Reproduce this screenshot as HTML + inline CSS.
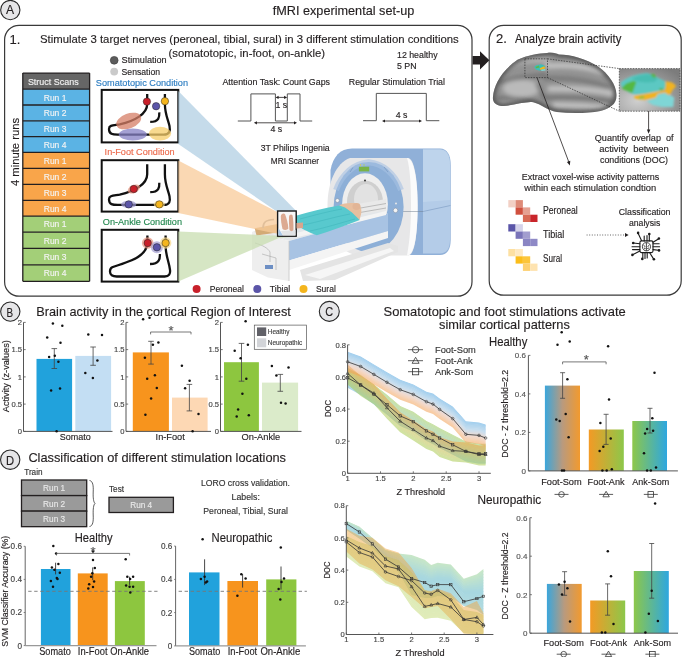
<!DOCTYPE html><html><head><meta charset="utf-8"><style>html,body{margin:0;padding:0;background:#fff;width:685px;height:657px;overflow:hidden}svg{display:block;font-family:"Liberation Sans",sans-serif;will-change:transform}</style></head><body>
<svg width="685" height="657" viewBox="0 0 685 657">
<defs>
<linearGradient id="gFS" x1="0" x2="1" y1="0" y2="0"><stop offset="0" stop-color="#3aa6dc"/><stop offset="0.5" stop-color="#b99a7e"/><stop offset="1" stop-color="#f29a2e"/></linearGradient>
<linearGradient id="gFA" x1="0" x2="1" y1="0" y2="0"><stop offset="0" stop-color="#f39a25"/><stop offset="1" stop-color="#8dc74a"/></linearGradient>
<linearGradient id="gAS" x1="0" x2="1" y1="0" y2="0"><stop offset="0" stop-color="#8dc74a"/><stop offset="1" stop-color="#2ea7e0"/></linearGradient>
<linearGradient id="bFS" x1="0" x2="0" y1="0" y2="1"><stop offset="0" stop-color="#3e9ee0"/><stop offset="0.45" stop-color="#dfb2a0"/><stop offset="1" stop-color="#f79a3a"/></linearGradient>
<linearGradient id="bFA" x1="0" x2="0" y1="0" y2="1"><stop offset="0" stop-color="#f5a040"/><stop offset="1" stop-color="#a9cc55"/></linearGradient>
<linearGradient id="bAS" x1="0" x2="0" y1="0" y2="1"><stop offset="0" stop-color="#9fcb55"/><stop offset="1" stop-color="#6fb8e0"/></linearGradient>
<linearGradient id="nG" x1="0" x2="0" y1="0" y2="1"><stop offset="0" stop-color="#b5d57a"/><stop offset="1" stop-color="#c8dc80"/></linearGradient>
<linearGradient id="nO" x1="0" x2="0" y1="0" y2="1"><stop offset="0" stop-color="#f0a43c"/><stop offset="1" stop-color="#e8ae48"/></linearGradient>
<linearGradient id="nT" x1="0" x2="0" y1="0" y2="1"><stop offset="0" stop-color="#9fd49a"/><stop offset="0.5" stop-color="#6dbcc6"/><stop offset="1" stop-color="#74b8cf"/></linearGradient>
<radialGradient id="brainG" cx="0.55" cy="0.45" r="0.6"><stop offset="0" stop-color="#c8c8c8"/><stop offset="0.6" stop-color="#9a9a9a"/><stop offset="1" stop-color="#555"/></radialGradient>
<radialGradient id="insetG" cx="0.3" cy="0.75" r="0.9"><stop offset="0" stop-color="#d0d0d0"/><stop offset="1" stop-color="#7c7c7c"/></radialGradient>
<linearGradient id="mriBlue" x1="0" x2="1" y1="0" y2="0"><stop offset="0" stop-color="#a9c6e3"/><stop offset="1" stop-color="#6f98c8"/></linearGradient>
<linearGradient id="mriWhite" x1="0" x2="1" y1="0" y2="1"><stop offset="0" stop-color="#f4f4f4"/><stop offset="1" stop-color="#c9cfd6"/></linearGradient>
</defs>
<circle cx="10.3" cy="10.05" r="9.65" fill="#e6e6e8" stroke="#2a2a2a" stroke-width="1.1"/>
<text x="6.1" y="13.6" font-size="13.4" fill="#231f20" stroke="#231f20" stroke-width="0.15" text-anchor="start" textLength="8.1" lengthAdjust="spacingAndGlyphs" >A</text>
<text x="272.7" y="15.3" font-size="12.8" fill="#231f20" stroke="#231f20" stroke-width="0.15" text-anchor="start" textLength="141.6" lengthAdjust="spacingAndGlyphs" >fMRI experimental set-up</text>
<rect x="4.6" y="25.3" width="467.4" height="270.9" rx="14.5" ry="14.5" fill="none" stroke="#3a3a3a" stroke-width="1.2"/>
<rect x="489.2" y="25.3" width="192.00000000000006" height="269.9" rx="14.5" ry="14.5" fill="none" stroke="#3a3a3a" stroke-width="1.2"/>
<path d="M472.6,56 L480,56 L480,51.2 L489.4,60.2 L480,69.4 L480,64.4 L472.6,64.4 Z" fill="#231f20"/>
<text x="9.5" y="44.2" font-size="13" fill="#231f20" stroke="#231f20" stroke-width="0.15" text-anchor="start" >1.</text>
<text x="40.0" y="43.3" font-size="11.6" fill="#231f20" stroke="#231f20" stroke-width="0.15" text-anchor="start" textLength="418.8" lengthAdjust="spacingAndGlyphs" >Stimulate 3 target nerves (peroneal, tibial, sural) in 3 different stimulation conditions</text>
<text x="168.6" y="57.4" font-size="11.6" fill="#231f20" stroke="#231f20" stroke-width="0.15" text-anchor="start" textLength="156.4" lengthAdjust="spacingAndGlyphs" >(somatotopic, in-foot, on-ankle)</text>
<circle cx="114.2" cy="60.3" r="3.9" fill="#5c5c5c" stroke="#3a3a3a" stroke-width="0.6"/>
<circle cx="114.2" cy="71.6" r="3.9" fill="#cacaca"/>
<text x="121.6" y="62.8" font-size="9.3" fill="#231f20" stroke="#231f20" stroke-width="0.15" text-anchor="start" textLength="45.1" lengthAdjust="spacingAndGlyphs" >Stimulation</text>
<text x="121.6" y="74.6" font-size="9.3" fill="#231f20" stroke="#231f20" stroke-width="0.15" text-anchor="start" textLength="38.4" lengthAdjust="spacingAndGlyphs" >Sensation</text>
<text x="397.0" y="57.6" font-size="8.8" fill="#231f20" stroke="#231f20" stroke-width="0.15" text-anchor="start" >12 healthy</text>
<text x="397.0" y="68.7" font-size="8.8" fill="#231f20" stroke="#231f20" stroke-width="0.15" text-anchor="start" >5 PN</text>
<rect x="22.8" y="73.1" width="66.8" height="16.1" fill="#666666" />
<text x="53.3" y="85.1" font-size="9.8" fill="#f2f2f2" stroke="#f2f2f2" stroke-width="0.15" text-anchor="middle" textLength="50.8" lengthAdjust="spacingAndGlyphs" >Struct Scans</text>
<rect x="22.8" y="89.2" width="66.8" height="15.8" fill="#5bb3e4" />
<text x="55.1" y="100.5" font-size="9.6" fill="#f4f4f4" stroke="#f4f4f4" stroke-width="0.15" text-anchor="middle" textLength="22.7" lengthAdjust="spacingAndGlyphs" >Run 1</text>
<rect x="22.8" y="105.0" width="66.8" height="15.8" fill="#5bb3e4" />
<text x="55.1" y="116.3" font-size="9.6" fill="#f4f4f4" stroke="#f4f4f4" stroke-width="0.15" text-anchor="middle" textLength="22.7" lengthAdjust="spacingAndGlyphs" >Run 2</text>
<rect x="22.8" y="120.8" width="66.8" height="15.8" fill="#5bb3e4" />
<text x="55.1" y="132.1" font-size="9.6" fill="#f4f4f4" stroke="#f4f4f4" stroke-width="0.15" text-anchor="middle" textLength="22.7" lengthAdjust="spacingAndGlyphs" >Run 3</text>
<rect x="22.8" y="136.6" width="66.8" height="15.8" fill="#5bb3e4" />
<text x="55.1" y="147.9" font-size="9.6" fill="#f4f4f4" stroke="#f4f4f4" stroke-width="0.15" text-anchor="middle" textLength="22.7" lengthAdjust="spacingAndGlyphs" >Run 4</text>
<rect x="22.8" y="152.4" width="66.8" height="16.0" fill="#f9a54a" />
<text x="55.1" y="163.7" font-size="9.6" fill="#f4f4f4" stroke="#f4f4f4" stroke-width="0.15" text-anchor="middle" textLength="22.7" lengthAdjust="spacingAndGlyphs" >Run 1</text>
<rect x="22.8" y="168.4" width="66.8" height="16.0" fill="#f9a54a" />
<text x="55.1" y="179.7" font-size="9.6" fill="#f4f4f4" stroke="#f4f4f4" stroke-width="0.15" text-anchor="middle" textLength="22.7" lengthAdjust="spacingAndGlyphs" >Run 2</text>
<rect x="22.8" y="184.4" width="66.8" height="15.9" fill="#f9a54a" />
<text x="55.1" y="195.7" font-size="9.6" fill="#f4f4f4" stroke="#f4f4f4" stroke-width="0.15" text-anchor="middle" textLength="22.7" lengthAdjust="spacingAndGlyphs" >Run 3</text>
<rect x="22.8" y="200.3" width="66.8" height="15.8" fill="#f9a54a" />
<text x="55.1" y="211.6" font-size="9.6" fill="#f4f4f4" stroke="#f4f4f4" stroke-width="0.15" text-anchor="middle" textLength="22.7" lengthAdjust="spacingAndGlyphs" >Run 4</text>
<rect x="22.8" y="216.1" width="66.8" height="16.1" fill="#a3cf78" />
<text x="55.1" y="227.4" font-size="9.6" fill="#f4f4f4" stroke="#f4f4f4" stroke-width="0.15" text-anchor="middle" textLength="22.7" lengthAdjust="spacingAndGlyphs" >Run 1</text>
<rect x="22.8" y="232.2" width="66.8" height="16.2" fill="#a3cf78" />
<text x="55.1" y="243.5" font-size="9.6" fill="#f4f4f4" stroke="#f4f4f4" stroke-width="0.15" text-anchor="middle" textLength="22.7" lengthAdjust="spacingAndGlyphs" >Run 2</text>
<rect x="22.8" y="248.4" width="66.8" height="16.4" fill="#a3cf78" />
<text x="55.1" y="259.7" font-size="9.6" fill="#f4f4f4" stroke="#f4f4f4" stroke-width="0.15" text-anchor="middle" textLength="22.7" lengthAdjust="spacingAndGlyphs" >Run 3</text>
<rect x="22.8" y="264.8" width="66.8" height="16.5" fill="#a3cf78" />
<text x="55.1" y="276.1" font-size="9.6" fill="#f4f4f4" stroke="#f4f4f4" stroke-width="0.15" text-anchor="middle" textLength="22.7" lengthAdjust="spacingAndGlyphs" >Run 4</text>
<line x1="22.8" y1="73.1" x2="89.6" y2="73.1" stroke="#231f20" stroke-width="1.3" />
<line x1="22.8" y1="89.2" x2="89.6" y2="89.2" stroke="#231f20" stroke-width="1.3" />
<line x1="22.8" y1="105.0" x2="89.6" y2="105.0" stroke="#231f20" stroke-width="1.3" />
<line x1="22.8" y1="120.8" x2="89.6" y2="120.8" stroke="#231f20" stroke-width="1.3" />
<line x1="22.8" y1="136.6" x2="89.6" y2="136.6" stroke="#231f20" stroke-width="1.3" />
<line x1="22.8" y1="152.4" x2="89.6" y2="152.4" stroke="#231f20" stroke-width="1.3" />
<line x1="22.8" y1="168.4" x2="89.6" y2="168.4" stroke="#231f20" stroke-width="1.3" />
<line x1="22.8" y1="184.4" x2="89.6" y2="184.4" stroke="#231f20" stroke-width="1.3" />
<line x1="22.8" y1="200.3" x2="89.6" y2="200.3" stroke="#231f20" stroke-width="1.3" />
<line x1="22.8" y1="216.1" x2="89.6" y2="216.1" stroke="#231f20" stroke-width="1.3" />
<line x1="22.8" y1="232.2" x2="89.6" y2="232.2" stroke="#231f20" stroke-width="1.3" />
<line x1="22.8" y1="248.4" x2="89.6" y2="248.4" stroke="#231f20" stroke-width="1.3" />
<line x1="22.8" y1="264.8" x2="89.6" y2="264.8" stroke="#231f20" stroke-width="1.3" />
<line x1="22.8" y1="281.3" x2="89.6" y2="281.3" stroke="#231f20" stroke-width="1.3" />
<line x1="22.8" y1="73.1" x2="22.8" y2="281.3" stroke="#231f20" stroke-width="1.3" />
<line x1="89.6" y1="73.1" x2="89.6" y2="281.3" stroke="#231f20" stroke-width="1.3" />
<text x="0" y="0" font-size="10.8" fill="#231f20" stroke="#231f20" stroke-width="0.15" text-anchor="middle" textLength="68.2" lengthAdjust="spacingAndGlyphs" transform="translate(19.0,152.0) rotate(-90)">4 minute runs</text>
<text x="95.8" y="86.0" font-size="9.3" fill="#2b7cc0" stroke="#2b7cc0" stroke-width="0.15" text-anchor="start" textLength="92.2" lengthAdjust="spacingAndGlyphs" >Somatotopic Condition</text>
<text x="104.6" y="155.4" font-size="9.3" fill="#ec6a4c" stroke="#ec6a4c" stroke-width="0.15" text-anchor="start" textLength="70.1" lengthAdjust="spacingAndGlyphs" >In-Foot Condition</text>
<text x="102.8" y="225.4" font-size="9.3" fill="#23884f" stroke="#23884f" stroke-width="0.15" text-anchor="start" textLength="79.2" lengthAdjust="spacingAndGlyphs" >On-Ankle Condition</text>
<rect x="101.7" y="89.9" width="76.60000000000001" height="52.5" fill="#fff" stroke="#111" stroke-width="2"/>
<rect x="101.7" y="160.2" width="76.60000000000001" height="51.4" fill="#fff" stroke="#111" stroke-width="2"/>
<rect x="101.7" y="229.8" width="76.60000000000001" height="51.8" fill="#fff" stroke="#111" stroke-width="2"/>
<path d="M147.2,93.9 L147.2,103.9 C147.2,113.9 134.7,120.9 119.7,124.4 C113.7,125.4 109.0,124.9 109.0,128.9 C109.0,134.4 112.7,134.60000000000002 117.7,134.60000000000002 L163.7,134.60000000000002 C169.7,134.60000000000002 170.5,130.9 169.5,125.9 C168.2,119.9 164.9,113.9 164.9,103.9 L164.9,93.9" fill="none" stroke="#111" stroke-width="2.3"/>
<path d="M159.3,112.4 C159.5,116.9 159.2,121.9 150.2,121.9" fill="none" stroke="#111" stroke-width="2.3"/>
<path d="M147.2,164.2 L147.2,174.2 C147.2,184.2 134.7,191.2 119.7,194.7 C113.7,195.7 109.0,195.2 109.0,199.2 C109.0,204.7 112.7,204.89999999999998 117.7,204.89999999999998 L163.7,204.89999999999998 C169.7,204.89999999999998 170.5,201.2 169.5,196.2 C168.2,190.2 164.9,184.2 164.9,174.2 L164.9,164.2" fill="none" stroke="#111" stroke-width="2.3"/>
<path d="M159.3,182.7 C159.5,187.2 159.2,192.2 150.2,192.2" fill="none" stroke="#111" stroke-width="2.3"/>
<path d="M147.4,235.60000000000002 L147.4,242.8 C147.2,251.8 139.7,256.8 131.7,260.3 C123.7,263.8 115.7,265.8 112.2,267.3 C109.2,268.8 109.5,273.8 111.7,275.3 C113.2,276.3 114.7,276.5 116.7,276.5 L164.7,276.5 C169.2,276.5 170.5,273.8 170.0,269.8 C169.2,262.8 165.9,255.8 165.7,247.8 L165.6,235.60000000000002" fill="none" stroke="#111" stroke-width="2.3"/>
<path d="M159.9,254.0 C160.1,258.3 159.7,263.8 150.0,264.0" fill="none" stroke="#111" stroke-width="2.3"/>
<ellipse cx="128.7" cy="121" rx="13" ry="7.5" transform="rotate(-20 128.7 121)" fill="#d67e66" opacity="0.75"/>
<ellipse cx="132.8" cy="134.5" rx="14" ry="6.1" fill="#8580c4" opacity="0.75"/>
<ellipse cx="160" cy="133.6" rx="11.1" ry="6.9" fill="#f6cd6a" opacity="0.75"/>
<circle cx="146.9" cy="101.6" r="3.7" fill="#c8202a" stroke="#222" stroke-width="0.5"/>
<circle cx="156.1" cy="106.2" r="3.7" fill="#5b55a8" stroke="#222" stroke-width="0.5"/>
<circle cx="164.9" cy="101.2" r="3.7" fill="#f4b51d" stroke="#222" stroke-width="0.5"/>
<ellipse cx="133.8" cy="189" rx="6.5" ry="4" transform="rotate(-25 133.8 189)" fill="#e6907a" opacity="0.7"/>
<ellipse cx="128.7" cy="204.4" rx="7.5" ry="3.6" fill="#9b96cf" opacity="0.7"/>
<ellipse cx="159.3" cy="204.4" rx="5.5" ry="3.6" fill="#f7d887" opacity="0.7"/>
<circle cx="133.8" cy="189" r="3.7" fill="#c8202a" stroke="#222" stroke-width="0.5"/>
<circle cx="128.7" cy="204.4" r="3.7" fill="#5b55a8" stroke="#222" stroke-width="0.5"/>
<circle cx="159.3" cy="204.4" r="3.7" fill="#f4b51d" stroke="#222" stroke-width="0.5"/>
<circle cx="147.7" cy="243" r="5.8" fill="#e6907a" opacity="0.7"/>
<circle cx="156.9" cy="247.3" r="6" fill="#a29dd2" opacity="0.7"/>
<circle cx="165.6" cy="243" r="5.8" fill="#f8d98a" opacity="0.7"/>
<circle cx="147.7" cy="243" r="3.7" fill="#c8202a" stroke="#222" stroke-width="0.5"/>
<circle cx="156.9" cy="247.3" r="3.7" fill="#5b55a8" stroke="#222" stroke-width="0.5"/>
<circle cx="165.6" cy="243" r="3.7" fill="#f4b51d" stroke="#222" stroke-width="0.5"/>
<text x="222.4" y="85.3" font-size="9.3" fill="#231f20" stroke="#231f20" stroke-width="0.15" text-anchor="start" textLength="107.6" lengthAdjust="spacingAndGlyphs" >Attention Task: Count Gaps</text>
<text x="348.8" y="85.3" font-size="9.3" fill="#231f20" stroke="#231f20" stroke-width="0.15" text-anchor="start" textLength="96.2" lengthAdjust="spacingAndGlyphs" >Regular Stimulation Trial</text>
<polyline points="237.8,121 250.9,121 250.9,93.9 275.4,93.9 275.4,121 287.3,121 287.3,93.9 300,93.9 300,121 312.2,121" fill="none" stroke="#555" stroke-width="1"/>
<polyline points="363,120.7 376.3,120.7 376.3,93.4 426.3,93.4 426.3,120.7 439.3,120.7" fill="none" stroke="#555" stroke-width="1"/>
<line x1="277.6" y1="97.4" x2="285.1" y2="97.4" stroke="#231f20" stroke-width="0.8" />
<path d="M275.6,97.4 L278.6,95.80000000000001 L278.6,99.0 Z M287.1,97.4 L284.1,95.80000000000001 L284.1,99.0 Z" fill="#231f20"/>
<line x1="255.9" y1="122.8" x2="295.0" y2="122.8" stroke="#231f20" stroke-width="0.8" />
<path d="M253.9,122.8 L256.9,121.2 L256.9,124.39999999999999 Z M297,122.8 L294,121.2 L294,124.39999999999999 Z" fill="#231f20"/>
<line x1="384.0" y1="121.0" x2="420.0" y2="121.0" stroke="#231f20" stroke-width="0.8" />
<path d="M382,121 L385,119.4 L385,122.6 Z M422,121 L419,119.4 L419,122.6 Z" fill="#231f20"/>
<text x="281.4" y="107.9" font-size="8.8" fill="#231f20" stroke="#231f20" stroke-width="0.15" text-anchor="middle" >1 s</text>
<text x="276.3" y="131.5" font-size="8.8" fill="#231f20" stroke="#231f20" stroke-width="0.15" text-anchor="middle" >4 s</text>
<text x="401.6" y="117.5" font-size="8.8" fill="#231f20" stroke="#231f20" stroke-width="0.15" text-anchor="middle" >4 s</text>
<text x="260.7" y="151.3" font-size="9" fill="#231f20" stroke="#231f20" stroke-width="0.15" text-anchor="start" textLength="69.0" lengthAdjust="spacingAndGlyphs" >3T Philips Ingenia</text>
<text x="270.8" y="163.6" font-size="9" fill="#231f20" stroke="#231f20" stroke-width="0.15" text-anchor="start" textLength="48.2" lengthAdjust="spacingAndGlyphs" >MRI Scanner</text>
<g id="mri">
<path d="M330.5,170 C333,157 340,148.6 352,148.6 L440,148.6 C447,148.6 450.7,155 450.7,165 L450.7,240 C450.7,249 447,255 440,255 L380,255 L330.5,230 Z" fill="#90b0d8"/>
<path d="M423,149.5 L440,149.5 C446.5,149.5 450,155 450,165 L450,240 C450,248.5 446.5,253.5 440,253.5 L423,253.5 Z" fill="#b4cce8"/>
<path d="M423,149.5 L440,149.5 C446.5,149.5 450,155 450,165 L450,200 L423,202 Z" fill="#bed4ec"/>
<path d="M423,211.5 L450.5,205.5" stroke="#6f8fb8" stroke-width="0.5"/>
<path d="M350,158 L408,158 C414,158 417.6,178 417.6,205 C417.6,232 415,255.5 408,255.5 L360,255.5 C340,255.5 327.5,230 327.5,205 C327.5,183 336,163 350,158 Z" fill="#e7e7e8"/>
<path d="M407,158 C413.5,158 417.6,178 417.6,205 C417.6,232 415,255.5 407,255.5 C410,240 411,222 411,205 C411,185 410,168 407,158 Z" fill="#fbfbfb"/>
<path d="M394,211.5 L423,211.5" stroke="#6f7f90" stroke-width="0.5"/>
<ellipse cx="368.6" cy="207.1" rx="35" ry="45.2" fill="#8dafd7"/>
<path d="M336,190 C342,174 354,163.5 368.6,162.3 C383,163.5 395,174 401,190" fill="none" stroke="#a6c1e2" stroke-width="6" opacity="0.6"/>
<path d="M353,167.5 L350,172 M384,167 L388,172" stroke="#6f8fb8" stroke-width="0.6"/>
<ellipse cx="365" cy="204.3" rx="22.9" ry="31" fill="#eeeeee"/>
<ellipse cx="365" cy="202" rx="18" ry="21.5" fill="#cfcfcf"/>
<ellipse cx="366" cy="199" rx="12" ry="15" fill="#e2e2e2"/>
<circle cx="365" cy="180.5" r="1" fill="#333"/>
<rect x="358.9" y="166.7" width="10.3" height="4.7" fill="#79b346"/>
<circle cx="360.5" cy="165" r="0.7" fill="#e8d22a"/><circle cx="364" cy="165" r="0.7" fill="#a8d24a"/>
<circle cx="395.5" cy="210.4" r="2.3" fill="#f4f4f4" stroke="#7d8ea6" stroke-width="0.6"/>
<circle cx="396" cy="203.5" r="1" fill="#e8e8e8"/>
<circle cx="337.4" cy="200.5" r="2" fill="#f4f4f4" stroke="#7d8ea6" stroke-width="0.6"/>
<path d="M352,205 L386,199 L386,216 L352,222 Z" fill="#e9e9e9"/>
<path d="M355,209 L386,203.5 M357,213 L386,208" stroke="#9a9a9a" stroke-width="0.6"/>
<path d="M300,270 L388,243 L398,246 L398,252 L335,280 L303,281 Z" fill="#e4e4e4"/>
<path d="M305,275 L390,248 L394,251 L320,279 Z" fill="#f6f6f6"/>
<path d="M262,229 L380,211.5 L388,213.5 L289,241 Z" fill="#e4e7ea"/>
<path d="M289,241 L388,213.5 L388,231 L289,260.5 Z" fill="#a8c3e3"/>
<path d="M289,260.5 L388,231 L388,238 L289,270 Z" fill="#f4f4f4"/>
<path d="M252,232 L289,241 L289,281 L268,277.5 L252,270 Z" fill="#eeeeee"/>
<path d="M252,232 L262,229 L289,241 Z" fill="#e6e6e6"/>
<path d="M289,241 L289,281" stroke="#c4c4c4" stroke-width="0.8"/>
<path d="M255,243 C262,245 268,248 270,252 L270,262 M262,254 L276,258 L276,270" fill="none" stroke="#9a9a9a" stroke-width="0.5"/>
<rect x="265" y="265" width="8" height="4" fill="#6d8fc4"/>
<path d="M296,233 L386,211 L386,215 L296,237.5 Z" fill="#f4f4f4"/>
<path d="M339,205.5 C344,203 351,202.5 357,203.5 C361,205.5 362,210 361,214.5 L359.5,220 L348,213 Z" fill="#e8bf9f"/>
<ellipse cx="356.5" cy="206.5" rx="4" ry="3.4" fill="#e2b596"/>
<path d="M296,215.8 C310,212 325,207.5 339.3,205.5 L345,207.5 L352,212.5 L359.7,219.9 C345,226 330,231 316.8,235.2 C308,232 300,228 296,224 Z" fill="#58c9ce"/>
<path d="M300,219 C315,215 330,211 342,209 M303,225 C318,222 334,217 350,214 M310,231 C325,228 340,223 355,219" fill="none" stroke="#44b9bf" stroke-width="0.9" opacity="0.8"/>
<path d="M254.7,228.3 L277.5,224 L277.5,232.5 L256.5,235.5 Z" fill="#d3aa76"/>
<path d="M263,228 C263,222 266,220 274,219.5" fill="none" stroke="#9c9c9c" stroke-width="1.6"/>
</g>
<polygon points="178.3,91 296.5,211.2 278.3,212.6 178.3,144" fill="#b2cfe3" opacity="0.75"/>
<polygon points="178.3,160.5 278.3,212.6 278.3,234 178.3,213" fill="#f8cb9a" opacity="0.75"/>
<polygon points="178.3,231.5 296.5,236.6 279,238 178.3,281.4" fill="#c8deb0" opacity="0.75"/>
<rect x="277.6" y="211" width="18.6" height="25.2" fill="#f7f7f7" stroke="#1a1a1a" stroke-width="1.4"/>
<path d="M278.4,228 L283,235.5 L278.4,235.5 Z" fill="#a9c8e8"/>
<path d="M281,231 L295.5,230 L295.5,235.5 L283,235.5 Z" fill="#e2e4e6"/>
<path d="M280.8,216 C281.2,213.5 283.5,212.8 285,214 C286.5,218 288,223 288.4,228.5 C287.5,230 284.5,230.5 282.5,229 C281.5,225 280.8,220 280.8,216 Z" fill="#dcaa92"/>
<path d="M289,217 C289.3,214.5 291.2,214 292.5,215.2 C293.3,219 293.6,225 293.4,230 C292.5,231.5 290.5,231.5 289.5,230 C289,226 288.9,221 289,217 Z" fill="#d9a58d"/>
<path d="M296.5,223 L303,222.5 L303,228 L296.5,228.5 Z" fill="#d9a58d"/>
<circle cx="196.6" cy="289" r="4" fill="#c8202a"/>
<circle cx="257.3" cy="289" r="4" fill="#5b55a8"/>
<circle cx="303.5" cy="289" r="4" fill="#f4b51d"/>
<text x="209.7" y="291.9" font-size="9" fill="#231f20" stroke="#231f20" stroke-width="0.15" text-anchor="start" textLength="34.3" lengthAdjust="spacingAndGlyphs" >Peroneal</text>
<text x="269.8" y="291.9" font-size="9" fill="#231f20" stroke="#231f20" stroke-width="0.15" text-anchor="start" textLength="20.5" lengthAdjust="spacingAndGlyphs" >Tibial</text>
<text x="315.9" y="291.9" font-size="9" fill="#231f20" stroke="#231f20" stroke-width="0.15" text-anchor="start" textLength="19.9" lengthAdjust="spacingAndGlyphs" >Sural</text>
<text x="496.0" y="43.4" font-size="13" fill="#231f20" stroke="#231f20" stroke-width="0.15" text-anchor="start" >2.</text>
<text x="515.0" y="43.4" font-size="12.3" fill="#231f20" stroke="#231f20" stroke-width="0.15" text-anchor="start" textLength="106.3" lengthAdjust="spacingAndGlyphs" >Analyze brain activity</text>
<defs><filter id="blur1" x="-20%" y="-20%" width="140%" height="140%"><feGaussianBlur stdDeviation="11"/></filter>
<filter id="blur2" x="-20%" y="-20%" width="140%" height="140%"><feGaussianBlur stdDeviation="3"/></filter>
<filter id="blur3" x="-20%" y="-20%" width="140%" height="140%"><feGaussianBlur stdDeviation="12"/></filter>
<clipPath id="brainClip"><path d="M25,265 C30,200 70,130 150,75 C200,50 260,42 300,40 C330,35 345,45 360,48 C420,48 500,70 560,110 C610,145 650,200 652,250 C655,300 620,320 570,335 C500,348 420,348 350,340 C300,330 270,300 230,290 C190,285 130,305 80,310 C40,310 22,290 25,265 Z"/></clipPath></defs>
<g transform="translate(488,45) scale(0.19708)">
<path d="M25,265 C30,200 70,130 150,75 C200,50 260,42 300,40 C330,35 345,45 360,48 C420,48 500,70 560,110 C610,145 650,200 652,250 C655,300 620,320 570,335 C500,348 420,348 350,340 C300,330 270,300 230,290 C190,285 130,305 80,310 C40,310 22,290 25,265 Z" fill="#929292"/>
<g clip-path="url(#brainClip)">
<g filter="url(#blur1)">
<path d="M304,106 C400,100 500,110 575,135 M315,222 C420,220 540,225 625,245 M340,305 C430,305 520,310 600,318" fill="none" stroke="#c2c2c2" stroke-width="28" stroke-linecap="round"/>
<path d="M290,170 C400,165 520,180 615,215 M289,268 C400,262 520,268 630,285" fill="none" stroke="#6e6e6e" stroke-width="16" stroke-linecap="round"/>
<ellipse cx="170" cy="220" rx="95" ry="45" fill="#bababa"/>
<path d="M90,110 C150,80 230,70 300,80" fill="none" stroke="#b0b0b0" stroke-width="30" stroke-linecap="round"/>
<path d="M60,190 C120,170 200,160 290,152 M46,272 C100,268 160,272 215,285 M250,200 C265,230 275,260 290,270" fill="none" stroke="#666" stroke-width="14" stroke-linecap="round"/>
<path d="M60,295 C120,285 180,290 230,300" fill="none" stroke="#a8a8a8" stroke-width="14" stroke-linecap="round"/>
</g>
<path d="M25,265 C30,200 70,130 150,75 C200,50 260,42 300,40 C330,35 345,45 360,48 C420,48 500,70 560,110 C610,145 650,200 652,250 C655,300 620,320 570,335 C500,348 420,348 350,340 C300,330 270,300 230,290 C190,285 130,305 80,310 C40,310 22,290 25,265 Z" fill="none" stroke="#404040" stroke-width="22" filter="url(#blur1)" opacity="0.85"/>
</g>
<g filter="url(#blur2)">
<path d="M235,110 C250,95 280,96 290,108 C292,118 280,128 265,130 C250,128 236,122 235,110 Z" fill="#3bbfb8"/>
<path d="M240,112 L258,104 L262,114 L246,118 Z" fill="#5cb84a"/>
<path d="M262,118 L285,108 L292,118 L275,124 L265,126 Z" fill="#f2b51b"/>
<path d="M268,126 L290,122 L292,130 L272,132 Z" fill="#7fd6d6"/>
</g>
</g>
<rect x="524.9" y="58.8" width="22.6" height="18.8" fill="none" stroke="#333" stroke-width="0.75" stroke-dasharray="1.5,1.2"/>
<rect x="619.3" y="68.6" width="60.6" height="42.6" fill="url(#insetG)"/>
<g transform="translate(615,64) scale(0.10219)" filter="url(#blur3)">
<path d="M55,180 L100,150 L160,120 L230,100 L310,88 L360,100 L430,140 L490,170 L500,200 L490,240 L460,260 L400,270 L300,290 L200,300 L140,280 L80,240 L60,210 Z" fill="#5cc8c2"/>
<path d="M160,140 L230,115 L310,100 L360,110 L420,150 L380,175 L300,180 L220,170 Z" fill="#34b2a2" opacity="0.5"/>
<path d="M65,235 L110,190 L180,165 L210,175 L190,230 L170,285 L130,270 L80,250 Z M345,100 L385,98 L405,130 L375,135 Z M430,240 L465,235 L470,255 L440,258 Z" fill="#55b843"/>
<path d="M185,330 L190,310 L300,290 L420,268 L490,258 L495,210 L495,170 L560,180 L600,215 L560,260 L540,300 L500,295 L495,280 L420,290 L400,330 L300,350 L220,345 Z" fill="#f1b322"/>
<path d="M230,325 L280,315 L290,330 L240,338 Z" fill="#5cbf4a"/>
<path d="M310,362 L400,330 L420,295 L495,282 L510,300 L545,305 L580,330 L570,420 L460,420 L370,400 Z" fill="#7fd6d6"/>
</g>
<rect x="619.3" y="68.6" width="60.6" height="42.6" fill="none" stroke="#444" stroke-width="0.75" stroke-dasharray="1.5,1.2"/>
<line x1="547.5" y1="58.8" x2="619.3" y2="68.6" stroke="#333" stroke-width="0.75" stroke-dasharray="1.5,1.2"/>
<line x1="547.5" y1="77.6" x2="619.3" y2="111.2" stroke="#333" stroke-width="0.75" stroke-dasharray="1.5,1.2"/>
<line x1="648.6" y1="111.0" x2="648.6" y2="131.0" stroke="#231f20" stroke-width="0.8" />
<path d="M648.6,133.8 L646.9,129.6 L650.3,129.6 Z" fill="#231f20"/>
<text x="594.8" y="141.0" font-size="9.2" fill="#231f20" stroke="#231f20" stroke-width="0.15" text-anchor="start" textLength="78.8" lengthAdjust="spacingAndGlyphs" >Quantify overlap&#160; of</text>
<text x="599.2" y="152.3" font-size="9.2" fill="#231f20" stroke="#231f20" stroke-width="0.15" text-anchor="start" textLength="69.6" lengthAdjust="spacingAndGlyphs" >activity&#160; between</text>
<text x="600.0" y="163.4" font-size="9.2" fill="#231f20" stroke="#231f20" stroke-width="0.15" text-anchor="start" textLength="68.0" lengthAdjust="spacingAndGlyphs" >conditions (DOC)</text>
<line x1="537.0" y1="77.6" x2="569.0" y2="162.5" stroke="#231f20" stroke-width="0.8" />
<path d="M569.8,165.5 L566.9,161.9 L570.3,160.7 Z" fill="#231f20"/>
<text x="521.8" y="179.8" font-size="9.6" fill="#231f20" stroke="#231f20" stroke-width="0.15" text-anchor="start" textLength="137.5" lengthAdjust="spacingAndGlyphs" >Extract voxel-wise activity patterns</text>
<text x="524.3" y="190.8" font-size="9.6" fill="#231f20" stroke="#231f20" stroke-width="0.15" text-anchor="start" textLength="131.8" lengthAdjust="spacingAndGlyphs" >within each stimulation condtion</text>
<rect x="508.3" y="200.1" width="7.3" height="7.3" fill="#f2d0c5" />
<rect x="515.6" y="200.1" width="7.3" height="7.3" fill="#de8b78" />
<rect x="515.6" y="207.4" width="7.3" height="7.3" fill="#d0503e" />
<rect x="522.9" y="207.4" width="7.3" height="7.3" fill="#e5a192" />
<rect x="522.9" y="214.7" width="7.3" height="7.3" fill="#d86b56" />
<rect x="530.2" y="214.7" width="7.3" height="7.3" fill="#c9252b" />
<rect x="508.3" y="224.2" width="7.3" height="7.3" fill="#5a55a8" />
<rect x="515.6" y="224.2" width="7.3" height="7.3" fill="#d5d3ea" />
<rect x="515.6" y="231.5" width="7.3" height="7.3" fill="#7a74b9" />
<rect x="522.9" y="231.5" width="7.3" height="7.3" fill="#a29dcf" />
<rect x="522.9" y="238.8" width="7.3" height="7.3" fill="#8a85c3" />
<rect x="530.2" y="238.8" width="7.3" height="7.3" fill="#8e89c6" />
<rect x="508.3" y="249.0" width="7.3" height="7.3" fill="#fde0a2" />
<rect x="515.6" y="249.0" width="7.3" height="7.3" fill="#fee9c2" />
<rect x="515.6" y="256.3" width="7.3" height="7.3" fill="#fbbd1a" />
<rect x="522.9" y="256.3" width="7.3" height="7.3" fill="#fcc53a" />
<rect x="522.9" y="263.6" width="7.3" height="7.3" fill="#fdd070" />
<rect x="530.2" y="263.6" width="7.3" height="7.3" fill="#fee3b0" />
<text x="543.0" y="214.0" font-size="10" fill="#231f20" stroke="#231f20" stroke-width="0.15" text-anchor="start" textLength="34.7" lengthAdjust="spacingAndGlyphs" >Peroneal</text>
<text x="543.0" y="237.6" font-size="10" fill="#231f20" stroke="#231f20" stroke-width="0.15" text-anchor="start" textLength="21.2" lengthAdjust="spacingAndGlyphs" >Tibial</text>
<text x="543.0" y="262.4" font-size="10" fill="#231f20" stroke="#231f20" stroke-width="0.15" text-anchor="start" textLength="19.0" lengthAdjust="spacingAndGlyphs" >Sural</text>
<text x="618.7" y="214.6" font-size="9.6" fill="#231f20" stroke="#231f20" stroke-width="0.15" text-anchor="start" textLength="51.8" lengthAdjust="spacingAndGlyphs" >Classification</text>
<text x="628.9" y="225.5" font-size="9.6" fill="#231f20" stroke="#231f20" stroke-width="0.15" text-anchor="start" textLength="31.4" lengthAdjust="spacingAndGlyphs" >analysis</text>
<line x1="586.6" y1="235.0" x2="625.5" y2="235.0" stroke="#555" stroke-width="0.9" stroke-dasharray="1,1.6"/>
<path d="M628.6,235 L625,233 L625,237 Z" fill="#231f20"/>
<g stroke="#1a1a1a" fill="none" stroke-width="1.1" stroke-linecap="round">
<rect x="639.9" y="240.9" width="13.1" height="11.7" rx="1.6"/>
<path d="M644.2,240.9 L644.2,236 M647,240.9 L647,235.5 M649.3,240.9 L649.3,234.3"/>
<path d="M642.8,252.6 L642.8,258 M645,252.6 L645,258.4 M647.2,252.6 L647.2,258"/>
<path d="M653,243.8 L659.2,243.8 M653,246.7 L659.6,246.7 M653,249.6 L658.8,250.3"/>
<path d="M639.9,243.8 L633.3,243 M639.9,246.7 L632,246.7 M639.9,249.6 L632.5,249.6"/>
<path d="M641.5,240.5 L638.1,233.3 M653,242.3 L658.8,238.7 M639.9,251.1 L632.6,254.7 M650,253.3 L653.7,259.1"/>
</g>
<g stroke="#1a1a1a" fill="none" stroke-width="0.8">
<path d="M646.4,242.6 C643.5,242.6 642.2,244.6 642.4,246.8 C642.5,249.2 644.2,250.9 646.4,250.9 C648.7,250.9 650.4,249.2 650.5,246.8 C650.6,244.6 649.3,242.6 646.4,242.6 Z"/>
<path d="M646.4,242.8 L646.4,250.8 M643.6,245.3 C644.8,245.6 645.2,246.4 644.4,247.4 M649.2,245.3 C648,245.6 647.6,246.4 648.4,247.4 M644,248.8 L645.6,248.4 M648.8,248.8 L647.2,248.4"/>
</g>
<g fill="#1a1a1a"><circle cx="638.1" cy="232.9" r="1.3"/><circle cx="649.3" cy="234" r="1.3"/><circle cx="658.9" cy="238.5" r="1.3"/><circle cx="633.2" cy="243" r="1.3"/><circle cx="659" cy="250.4" r="1.3"/><circle cx="632.4" cy="254.9" r="1.3"/><circle cx="642.3" cy="258.9" r="1.3"/><circle cx="653.9" cy="259.3" r="1.3"/></g>
<circle cx="10.3" cy="311.6" r="9.65" fill="#e6e6e8" stroke="#2a2a2a" stroke-width="1.1"/>
<text x="6.6" y="316.9" font-size="13.4" fill="#231f20" stroke="#231f20" stroke-width="0.15" text-anchor="start" textLength="6.6" lengthAdjust="spacingAndGlyphs" >B</text>
<text x="36.3" y="315.8" font-size="13.3" fill="#231f20" stroke="#231f20" stroke-width="0.15" text-anchor="start" textLength="254.5" lengthAdjust="spacingAndGlyphs" >Brain activity in the cortical Region of Interest</text>
<rect x="36.5" y="358.9" width="35.6" height="72.5" fill="#21a2dc" />
<rect x="75.3" y="355.9" width="35.8" height="75.5" fill="#c3def3" />
<line x1="23.5" y1="322.4" x2="23.5" y2="431.4" stroke="#555" stroke-width="1" />
<line x1="23.5" y1="431.4" x2="25.7" y2="431.4" stroke="#555" stroke-width="0.8" />
<text x="22.0" y="434.1" font-size="7.6" fill="#444" stroke="#444" stroke-width="0.15" text-anchor="end" >0</text>
<line x1="23.5" y1="404.1" x2="25.7" y2="404.1" stroke="#555" stroke-width="0.8" />
<text x="22.0" y="406.8" font-size="7.6" fill="#444" stroke="#444" stroke-width="0.15" text-anchor="end" >0.5</text>
<line x1="23.5" y1="376.9" x2="25.7" y2="376.9" stroke="#555" stroke-width="0.8" />
<text x="22.0" y="379.6" font-size="7.6" fill="#444" stroke="#444" stroke-width="0.15" text-anchor="end" >1</text>
<line x1="23.5" y1="349.6" x2="25.7" y2="349.6" stroke="#555" stroke-width="0.8" />
<text x="22.0" y="352.3" font-size="7.6" fill="#444" stroke="#444" stroke-width="0.15" text-anchor="end" >1.5</text>
<line x1="23.5" y1="322.4" x2="25.7" y2="322.4" stroke="#555" stroke-width="0.8" />
<text x="22.0" y="325.1" font-size="7.6" fill="#444" stroke="#444" stroke-width="0.15" text-anchor="end" >2</text>
<line x1="23.5" y1="431.4" x2="112.5" y2="431.4" stroke="#555" stroke-width="1" />
<line x1="54.3" y1="348.6" x2="54.3" y2="368.5" stroke="#444" stroke-width="0.8" />
<line x1="51.5" y1="348.6" x2="57.1" y2="348.6" stroke="#444" stroke-width="0.8" />
<line x1="51.5" y1="368.5" x2="57.1" y2="368.5" stroke="#444" stroke-width="0.8" />
<line x1="93.1" y1="347.0" x2="93.1" y2="365.3" stroke="#444" stroke-width="0.8" />
<line x1="90.3" y1="347.0" x2="95.9" y2="347.0" stroke="#444" stroke-width="0.8" />
<line x1="90.3" y1="365.3" x2="95.9" y2="365.3" stroke="#444" stroke-width="0.8" />
<circle cx="52.9" cy="323.5" r="1.25" fill="#111"/>
<circle cx="62.3" cy="325.8" r="1.25" fill="#111"/>
<circle cx="47.2" cy="337.4" r="1.25" fill="#111"/>
<circle cx="60.5" cy="342.7" r="1.25" fill="#111"/>
<circle cx="49.1" cy="357.0" r="1.25" fill="#111"/>
<circle cx="54.8" cy="355.7" r="1.25" fill="#111"/>
<circle cx="58.4" cy="361.8" r="1.25" fill="#111"/>
<circle cx="51.1" cy="390.4" r="1.25" fill="#111"/>
<circle cx="60.0" cy="388.5" r="1.25" fill="#111"/>
<circle cx="56.6" cy="431.2" r="1.25" fill="#111"/>
<circle cx="88.3" cy="334.5" r="1.25" fill="#111"/>
<circle cx="102.0" cy="334.9" r="1.25" fill="#111"/>
<circle cx="97.4" cy="360.5" r="1.25" fill="#111"/>
<circle cx="85.3" cy="373.0" r="1.25" fill="#111"/>
<circle cx="92.9" cy="378.0" r="1.25" fill="#111"/>
<text x="59.8" y="440.2" font-size="9.6" fill="#231f20" stroke="#231f20" stroke-width="0.15" text-anchor="start" textLength="31.0" lengthAdjust="spacingAndGlyphs" >Somato</text>
<rect x="132.8" y="352.4" width="36.1" height="79.0" fill="#f7941d" />
<rect x="172.0" y="397.6" width="35.6" height="33.8" fill="#fdd8b4" />
<line x1="126.0" y1="322.4" x2="126.0" y2="431.4" stroke="#555" stroke-width="1" />
<line x1="126.0" y1="431.4" x2="128.2" y2="431.4" stroke="#555" stroke-width="0.8" />
<text x="124.5" y="434.1" font-size="7.6" fill="#444" stroke="#444" stroke-width="0.15" text-anchor="end" >0</text>
<line x1="126.0" y1="404.1" x2="128.2" y2="404.1" stroke="#555" stroke-width="0.8" />
<text x="124.5" y="406.8" font-size="7.6" fill="#444" stroke="#444" stroke-width="0.15" text-anchor="end" >0.5</text>
<line x1="126.0" y1="376.9" x2="128.2" y2="376.9" stroke="#555" stroke-width="0.8" />
<text x="124.5" y="379.6" font-size="7.6" fill="#444" stroke="#444" stroke-width="0.15" text-anchor="end" >1</text>
<line x1="126.0" y1="349.6" x2="128.2" y2="349.6" stroke="#555" stroke-width="0.8" />
<text x="124.5" y="352.3" font-size="7.6" fill="#444" stroke="#444" stroke-width="0.15" text-anchor="end" >1.5</text>
<line x1="126.0" y1="322.4" x2="128.2" y2="322.4" stroke="#555" stroke-width="0.8" />
<text x="124.5" y="325.1" font-size="7.6" fill="#444" stroke="#444" stroke-width="0.15" text-anchor="end" >2</text>
<line x1="126.0" y1="431.4" x2="211.0" y2="431.4" stroke="#555" stroke-width="1" />
<line x1="151.0" y1="341.3" x2="151.0" y2="364.1" stroke="#444" stroke-width="0.8" />
<line x1="148.2" y1="341.3" x2="153.8" y2="341.3" stroke="#444" stroke-width="0.8" />
<line x1="148.2" y1="364.1" x2="153.8" y2="364.1" stroke="#444" stroke-width="0.8" />
<line x1="189.4" y1="384.4" x2="189.4" y2="410.9" stroke="#444" stroke-width="0.8" />
<line x1="186.6" y1="384.4" x2="192.2" y2="384.4" stroke="#444" stroke-width="0.8" />
<line x1="186.6" y1="410.9" x2="192.2" y2="410.9" stroke="#444" stroke-width="0.8" />
<circle cx="143.1" cy="319.2" r="1.25" fill="#111"/>
<circle cx="149.5" cy="317.8" r="1.25" fill="#111"/>
<circle cx="152.9" cy="344.7" r="1.25" fill="#111"/>
<circle cx="158.4" cy="342.5" r="1.25" fill="#111"/>
<circle cx="144.9" cy="357.7" r="1.25" fill="#111"/>
<circle cx="154.9" cy="375.3" r="1.25" fill="#111"/>
<circle cx="147.2" cy="378.7" r="1.25" fill="#111"/>
<circle cx="156.8" cy="388.1" r="1.25" fill="#111"/>
<circle cx="151.1" cy="398.4" r="1.25" fill="#111"/>
<circle cx="145.4" cy="414.8" r="1.25" fill="#111"/>
<circle cx="181.9" cy="365.7" r="1.25" fill="#111"/>
<circle cx="189.6" cy="380.8" r="1.25" fill="#111"/>
<circle cx="185.1" cy="388.3" r="1.25" fill="#111"/>
<circle cx="198.5" cy="414.0" r="1.25" fill="#111"/>
<circle cx="192.6" cy="431.2" r="1.25" fill="#111"/>
<text x="155.6" y="440.2" font-size="9.6" fill="#231f20" stroke="#231f20" stroke-width="0.15" text-anchor="start" textLength="29.2" lengthAdjust="spacingAndGlyphs" >In-Foot</text>
<rect x="224.0" y="362.2" width="34.9" height="69.2" fill="#8dc63f" />
<rect x="262.0" y="382.6" width="36.1" height="48.8" fill="#dbebca" />
<line x1="220.5" y1="322.4" x2="220.5" y2="431.4" stroke="#555" stroke-width="1" />
<line x1="220.5" y1="431.4" x2="222.7" y2="431.4" stroke="#555" stroke-width="0.8" />
<text x="219.0" y="434.1" font-size="7.6" fill="#444" stroke="#444" stroke-width="0.15" text-anchor="end" >0</text>
<line x1="220.5" y1="404.1" x2="222.7" y2="404.1" stroke="#555" stroke-width="0.8" />
<text x="219.0" y="406.8" font-size="7.6" fill="#444" stroke="#444" stroke-width="0.15" text-anchor="end" >0.5</text>
<line x1="220.5" y1="376.9" x2="222.7" y2="376.9" stroke="#555" stroke-width="0.8" />
<text x="219.0" y="379.6" font-size="7.6" fill="#444" stroke="#444" stroke-width="0.15" text-anchor="end" >1</text>
<line x1="220.5" y1="349.6" x2="222.7" y2="349.6" stroke="#555" stroke-width="0.8" />
<text x="219.0" y="352.3" font-size="7.6" fill="#444" stroke="#444" stroke-width="0.15" text-anchor="end" >1.5</text>
<line x1="220.5" y1="322.4" x2="222.7" y2="322.4" stroke="#555" stroke-width="0.8" />
<text x="219.0" y="325.1" font-size="7.6" fill="#444" stroke="#444" stroke-width="0.15" text-anchor="end" >2</text>
<line x1="220.5" y1="431.4" x2="301.5" y2="431.4" stroke="#555" stroke-width="1" />
<line x1="241.5" y1="343.4" x2="241.5" y2="381.2" stroke="#444" stroke-width="0.8" />
<line x1="238.7" y1="343.4" x2="244.3" y2="343.4" stroke="#444" stroke-width="0.8" />
<line x1="238.7" y1="381.2" x2="244.3" y2="381.2" stroke="#444" stroke-width="0.8" />
<line x1="280.3" y1="374.4" x2="280.3" y2="391.3" stroke="#444" stroke-width="0.8" />
<line x1="277.5" y1="374.4" x2="283.1" y2="374.4" stroke="#444" stroke-width="0.8" />
<line x1="277.5" y1="391.3" x2="283.1" y2="391.3" stroke="#444" stroke-width="0.8" />
<circle cx="245.6" cy="321.2" r="1.25" fill="#111"/>
<circle cx="247.9" cy="344.7" r="1.25" fill="#111"/>
<circle cx="234.7" cy="350.7" r="1.25" fill="#111"/>
<circle cx="240.6" cy="358.2" r="1.25" fill="#111"/>
<circle cx="246.3" cy="378.7" r="1.25" fill="#111"/>
<circle cx="242.4" cy="393.8" r="1.25" fill="#111"/>
<circle cx="238.1" cy="409.5" r="1.25" fill="#111"/>
<circle cx="236.7" cy="416.6" r="1.25" fill="#111"/>
<circle cx="248.8" cy="415.2" r="1.25" fill="#111"/>
<circle cx="271.9" cy="366.0" r="1.25" fill="#111"/>
<circle cx="288.5" cy="367.6" r="1.25" fill="#111"/>
<circle cx="276.4" cy="375.5" r="1.25" fill="#111"/>
<circle cx="281.0" cy="402.7" r="1.25" fill="#111"/>
<circle cx="285.6" cy="403.4" r="1.25" fill="#111"/>
<text x="241.5" y="440.2" font-size="9.6" fill="#231f20" stroke="#231f20" stroke-width="0.15" text-anchor="start" textLength="38.8" lengthAdjust="spacingAndGlyphs" >On-Ankle</text>
<polyline points="150.6,334.4 150.6,332 191,332 191,334.4" fill="none" stroke="#555" stroke-width="0.8"/>
<text x="171.1" y="334.5" font-size="13" fill="#555" stroke="#555" stroke-width="0.15" text-anchor="middle" >*</text>
<rect x="254.3" y="325.1" width="52.2" height="24.2" fill="#fff" stroke="#555" stroke-width="0.7"/>
<rect x="257.0" y="327.4" width="9.2" height="8.6" fill="#616168" />
<rect x="257.0" y="338.3" width="9.2" height="9.0" fill="#d2d4d8" />
<text x="267.8" y="334.2" font-size="6.4" fill="#444" stroke="#444" stroke-width="0.15" text-anchor="start" >Healthy</text>
<text x="267.8" y="344.7" font-size="6.4" fill="#444" stroke="#444" stroke-width="0.15" text-anchor="start" >Neuropathic</text>
<text x="0" y="0" font-size="9.8" fill="#231f20" stroke="#231f20" stroke-width="0.15" text-anchor="middle" textLength="72.0" lengthAdjust="spacingAndGlyphs" transform="translate(8.9,376.2) rotate(-90)">Activity (z-values)</text>
<circle cx="329.3" cy="311.4" r="10" fill="#e6e6e8" stroke="#2a2a2a" stroke-width="1.1"/>
<text x="325.2" y="316.4" font-size="13.4" fill="#231f20" stroke="#231f20" stroke-width="0.15" text-anchor="start" textLength="7.9" lengthAdjust="spacingAndGlyphs" >C</text>
<text x="383.5" y="315.5" font-size="12.6" fill="#231f20" stroke="#231f20" stroke-width="0.15" text-anchor="start" textLength="242.3" lengthAdjust="spacingAndGlyphs" >Somatotopic and foot stimulations activate</text>
<text x="439.0" y="328.6" font-size="12.6" fill="#231f20" stroke="#231f20" stroke-width="0.15" text-anchor="start" textLength="130.8" lengthAdjust="spacingAndGlyphs" >similar cortical patterns</text>
<g opacity="0.55">
<polygon points="347.6,367.8 360.7,375.0 373.9,384.4 387.0,394.7 400.2,405.9 413.3,411.7 426.4,420.9 433.0,424.3 439.6,428.0 452.7,434.8 465.9,441.4 479.0,443.8 485.6,443.8 485.6,445.1 479.0,445.1 465.9,442.6 452.7,436.1 439.6,429.2 433.0,425.6 426.4,422.1 413.3,412.9 400.2,407.1 387.0,395.9 373.9,385.6 360.7,376.2 347.6,369.1" fill="#9eca59"/>
<polygon points="347.6,368.4 360.7,375.6 373.9,384.9 387.0,395.2 400.2,406.4 413.3,412.2 426.4,421.4 433.0,424.9 439.6,428.6 452.7,435.4 465.9,441.9 479.0,444.4 485.6,444.4 485.6,446.3 479.0,446.3 465.9,443.9 452.7,437.3 439.6,430.5 433.0,426.8 426.4,423.4 413.3,414.2 400.2,408.4 387.0,397.2 373.9,386.9 360.7,377.5 347.6,370.3" fill="#9ac962"/>
<polygon points="347.6,369.6 360.7,376.8 373.9,386.2 387.0,396.5 400.2,407.7 413.3,413.5 426.4,422.7 433.0,426.1 439.6,429.8 452.7,436.6 465.9,443.2 479.0,445.6 485.6,445.6 485.6,447.6 479.0,447.6 465.9,445.1 452.7,438.6 439.6,431.8 433.0,428.1 426.4,424.6 413.3,415.4 400.2,409.6 387.0,398.4 373.9,388.1 360.7,378.8 347.6,371.6" fill="#98c86b"/>
<polygon points="347.6,370.9 360.7,378.1 373.9,387.4 387.0,397.8 400.2,408.9 413.3,414.8 426.4,423.9 433.0,427.4 439.6,431.1 452.7,437.9 465.9,444.4 479.0,446.9 485.6,446.9 485.6,448.8 479.0,448.8 465.9,446.4 452.7,439.8 439.6,433.0 433.0,429.3 426.4,425.9 413.3,416.7 400.2,410.9 387.0,399.7 373.9,389.4 360.7,380.0 347.6,372.8" fill="#94c773"/>
<polygon points="347.6,372.1 360.7,379.3 373.9,388.7 387.0,399.0 400.2,410.2 413.3,416.0 426.4,425.2 433.0,428.6 439.6,432.3 452.7,439.1 465.9,445.7 479.0,448.1 485.6,448.1 485.6,450.1 479.0,450.1 465.9,447.6 452.7,441.1 439.6,434.2 433.0,430.6 426.4,427.1 413.3,417.9 400.2,412.1 387.0,400.9 373.9,390.6 360.7,381.2 347.6,374.1" fill="#92c67c"/>
<polygon points="347.6,373.4 360.7,380.6 373.9,389.9 387.0,400.2 400.2,411.4 413.3,417.2 426.4,426.4 433.0,429.9 439.6,433.6 452.7,440.4 465.9,446.9 479.0,449.4 485.6,449.4 485.6,451.3 479.0,451.3 465.9,448.9 452.7,442.3 439.6,435.5 433.0,431.8 426.4,428.4 413.3,419.2 400.2,413.4 387.0,402.2 373.9,391.9 360.7,382.5 347.6,375.3" fill="#8ec485"/>
<polygon points="347.6,374.6 360.7,381.8 373.9,391.2 387.0,401.5 400.2,412.7 413.3,418.5 426.4,427.7 433.0,431.1 439.6,434.8 452.7,441.6 465.9,448.2 479.0,450.6 485.6,450.6 485.6,452.6 479.0,452.6 465.9,450.1 452.7,443.6 439.6,436.8 433.0,433.1 426.4,429.6 413.3,420.4 400.2,414.6 387.0,403.4 373.9,393.1 360.7,383.8 347.6,376.6" fill="#8cc38d"/>
<polygon points="347.6,375.9 360.7,383.1 373.9,392.4 387.0,402.8 400.2,413.9 413.3,419.8 426.4,428.9 433.0,432.4 439.6,436.1 452.7,442.9 465.9,449.4 479.0,451.9 485.6,451.9 485.6,453.8 479.0,453.8 465.9,451.4 452.7,444.8 439.6,438.0 433.0,434.3 426.4,430.9 413.3,421.7 400.2,415.9 387.0,404.7 373.9,394.4 360.7,385.0 347.6,377.8" fill="#88c296"/>
<polygon points="347.6,377.1 360.7,384.3 373.9,393.7 387.0,404.0 400.2,415.2 413.3,421.0 426.4,430.2 433.0,433.6 439.6,437.3 452.7,444.1 465.9,450.7 479.0,453.1 485.6,453.1 485.6,455.1 479.0,455.1 465.9,452.6 452.7,446.1 439.6,439.2 433.0,435.6 426.4,432.1 413.3,422.9 400.2,417.1 387.0,405.9 373.9,395.6 360.7,386.2 347.6,379.1" fill="#86c19f"/>
<polygon points="347.6,378.4 360.7,385.6 373.9,394.9 387.0,405.2 400.2,416.4 413.3,422.2 426.4,431.4 433.0,434.9 439.6,438.6 452.7,445.4 465.9,451.9 479.0,454.4 485.6,454.4 485.6,456.3 479.0,456.3 465.9,453.9 452.7,447.3 439.6,440.5 433.0,436.8 426.4,433.4 413.3,424.2 400.2,418.4 387.0,407.2 373.9,396.9 360.7,387.5 347.6,380.3" fill="#82c0a8"/>
<polygon points="347.6,379.6 360.7,386.8 373.9,396.2 387.0,406.5 400.2,417.7 413.3,423.5 426.4,432.7 433.0,436.1 439.6,439.8 452.7,446.6 465.9,453.2 479.0,455.6 485.6,455.6 485.6,457.6 479.0,457.6 465.9,455.1 452.7,448.6 439.6,441.8 433.0,438.1 426.4,434.6 413.3,425.4 400.2,419.6 387.0,408.4 373.9,398.1 360.7,388.8 347.6,381.6" fill="#80bfb0"/>
<polygon points="347.6,380.9 360.7,388.1 373.9,397.4 387.0,407.8 400.2,418.9 413.3,424.8 426.4,433.9 433.0,437.4 439.6,441.1 452.7,447.9 465.9,454.4 479.0,456.9 485.6,456.9 485.6,458.8 479.0,458.8 465.9,456.4 452.7,449.8 439.6,443.0 433.0,439.3 426.4,435.9 413.3,426.7 400.2,420.9 387.0,409.7 373.9,399.4 360.7,390.0 347.6,382.8" fill="#7cbdb9"/>
<polygon points="347.6,382.1 360.7,389.3 373.9,398.7 387.0,409.0 400.2,420.2 413.3,426.0 426.4,435.2 433.0,438.6 439.6,442.3 452.7,449.1 465.9,455.7 479.0,458.1 485.6,458.1 485.6,460.1 479.0,460.1 465.9,457.6 452.7,451.1 439.6,444.2 433.0,440.6 426.4,437.1 413.3,427.9 400.2,422.1 387.0,410.9 373.9,400.6 360.7,391.2 347.6,384.1" fill="#7abcc2"/>
<polygon points="347.6,383.4 360.7,390.6 373.9,399.9 387.0,410.2 400.2,421.4 413.3,427.2 426.4,436.4 433.0,439.9 439.6,443.6 452.7,450.4 465.9,456.9 479.0,459.4 485.6,459.4 485.6,461.3 479.0,461.3 465.9,458.9 452.7,452.3 439.6,445.5 433.0,441.8 426.4,438.4 413.3,429.2 400.2,423.4 387.0,412.2 373.9,401.9 360.7,392.5 347.6,385.3" fill="#76bbca"/>
<polygon points="347.6,384.6 360.7,391.8 373.9,401.2 387.0,411.5 400.2,422.7 413.3,428.5 426.4,437.7 433.0,441.1 439.6,444.8 452.7,451.6 465.9,458.2 479.0,460.6 485.6,460.6 485.6,462.6 479.0,462.6 465.9,460.1 452.7,453.6 439.6,446.8 433.0,443.1 426.4,439.6 413.3,430.4 400.2,424.6 387.0,413.4 373.9,403.1 360.7,393.8 347.6,386.6" fill="#74bad3"/>
<polygon points="347.6,385.9 360.7,393.1 373.9,402.4 387.0,412.8 400.2,423.9 413.3,429.8 426.4,438.9 433.0,442.4 439.6,446.1 452.7,452.9 465.9,459.4 479.0,461.9 485.6,461.9 485.6,463.8 479.0,463.8 465.9,461.4 452.7,454.8 439.6,448.0 433.0,444.3 426.4,440.9 413.3,431.7 400.2,425.9 387.0,414.7 373.9,404.4 360.7,395.0 347.6,387.8" fill="#70b9dc"/>
</g>
<g opacity="0.55">
<polygon points="347.6,364.4 360.7,376.0 373.9,384.2 387.0,398.8 400.2,412.2 413.3,420.6 426.4,429.0 433.0,431.6 439.6,437.1 452.7,441.6 465.9,442.4 479.0,445.5 485.6,445.5 485.6,446.8 479.0,446.8 465.9,443.6 452.7,442.9 439.6,438.4 433.0,432.9 426.4,430.2 413.3,421.9 400.2,413.4 387.0,400.1 373.9,385.4 360.7,377.2 347.6,365.6" fill="#f3a141"/>
<polygon points="347.6,364.9 360.7,376.6 373.9,384.8 387.0,399.4 400.2,412.8 413.3,421.2 426.4,429.6 433.0,432.2 439.6,437.7 452.7,442.2 465.9,442.9 479.0,446.1 485.6,446.1 485.6,448.0 479.0,448.0 465.9,444.9 452.7,444.1 439.6,439.6 433.0,434.1 426.4,431.5 413.3,423.1 400.2,414.7 387.0,401.3 373.9,386.7 360.7,378.5 347.6,366.9" fill="#eea442"/>
<polygon points="347.6,366.2 360.7,377.8 373.9,386.0 387.0,400.6 400.2,414.0 413.3,422.4 426.4,430.8 433.0,433.4 439.6,438.9 452.7,443.4 465.9,444.2 479.0,447.3 485.6,447.3 485.6,449.2 479.0,449.2 465.9,446.1 452.7,445.4 439.6,440.9 433.0,435.4 426.4,432.8 413.3,424.4 400.2,415.9 387.0,402.6 373.9,387.9 360.7,379.8 347.6,368.1" fill="#e9a743"/>
<polygon points="347.6,367.4 360.7,379.1 373.9,387.2 387.0,401.9 400.2,415.2 413.3,423.7 426.4,432.1 433.0,434.7 439.6,440.2 452.7,444.7 465.9,445.4 479.0,448.6 485.6,448.6 485.6,450.5 479.0,450.5 465.9,447.4 452.7,446.6 439.6,442.1 433.0,436.6 426.4,434.0 413.3,425.6 400.2,417.2 387.0,403.8 373.9,389.2 360.7,381.0 347.6,369.4" fill="#e4aa45"/>
<polygon points="347.6,368.7 360.7,380.3 373.9,388.5 387.0,403.1 400.2,416.5 413.3,424.9 426.4,433.3 433.0,435.9 439.6,441.4 452.7,445.9 465.9,446.7 479.0,449.8 485.6,449.8 485.6,451.8 479.0,451.8 465.9,448.6 452.7,447.9 439.6,443.4 433.0,437.9 426.4,435.2 413.3,426.9 400.2,418.4 387.0,405.1 373.9,390.4 360.7,382.2 347.6,370.6" fill="#e0ac46"/>
<polygon points="347.6,369.9 360.7,381.6 373.9,389.8 387.0,404.4 400.2,417.8 413.3,426.2 426.4,434.6 433.0,437.2 439.6,442.7 452.7,447.2 465.9,447.9 479.0,451.1 485.6,451.1 485.6,453.0 479.0,453.0 465.9,449.9 452.7,449.1 439.6,444.6 433.0,439.1 426.4,436.5 413.3,428.1 400.2,419.7 387.0,406.3 373.9,391.7 360.7,383.5 347.6,371.9" fill="#dbaf47"/>
<polygon points="347.6,371.2 360.7,382.8 373.9,391.0 387.0,405.6 400.2,419.0 413.3,427.4 426.4,435.8 433.0,438.4 439.6,443.9 452.7,448.4 465.9,449.2 479.0,452.3 485.6,452.3 485.6,454.2 479.0,454.2 465.9,451.1 452.7,450.4 439.6,445.9 433.0,440.4 426.4,437.8 413.3,429.4 400.2,420.9 387.0,407.6 373.9,392.9 360.7,384.8 347.6,373.1" fill="#d6b249"/>
<polygon points="347.6,372.4 360.7,384.1 373.9,392.2 387.0,406.9 400.2,420.2 413.3,428.7 426.4,437.1 433.0,439.7 439.6,445.2 452.7,449.7 465.9,450.4 479.0,453.6 485.6,453.6 485.6,455.5 479.0,455.5 465.9,452.4 452.7,451.6 439.6,447.1 433.0,441.6 426.4,439.0 413.3,430.6 400.2,422.2 387.0,408.8 373.9,394.2 360.7,386.0 347.6,374.4" fill="#d1b54a"/>
<polygon points="347.6,373.7 360.7,385.3 373.9,393.5 387.0,408.1 400.2,421.5 413.3,429.9 426.4,438.3 433.0,440.9 439.6,446.4 452.7,450.9 465.9,451.7 479.0,454.8 485.6,454.8 485.6,456.8 479.0,456.8 465.9,453.6 452.7,452.9 439.6,448.4 433.0,442.9 426.4,440.2 413.3,431.9 400.2,423.4 387.0,410.1 373.9,395.4 360.7,387.2 347.6,375.6" fill="#cdb74b"/>
<polygon points="347.6,374.9 360.7,386.6 373.9,394.8 387.0,409.4 400.2,422.8 413.3,431.2 426.4,439.6 433.0,442.2 439.6,447.7 452.7,452.2 465.9,452.9 479.0,456.1 485.6,456.1 485.6,458.0 479.0,458.0 465.9,454.9 452.7,454.1 439.6,449.6 433.0,444.1 426.4,441.5 413.3,433.1 400.2,424.7 387.0,411.3 373.9,396.7 360.7,388.5 347.6,376.9" fill="#c8ba4c"/>
<polygon points="347.6,376.2 360.7,387.8 373.9,396.0 387.0,410.6 400.2,424.0 413.3,432.4 426.4,440.8 433.0,443.4 439.6,448.9 452.7,453.4 465.9,454.2 479.0,457.3 485.6,457.3 485.6,459.2 479.0,459.2 465.9,456.1 452.7,455.4 439.6,450.9 433.0,445.4 426.4,442.8 413.3,434.4 400.2,425.9 387.0,412.6 373.9,397.9 360.7,389.8 347.6,378.1" fill="#c3bd4e"/>
<polygon points="347.6,377.4 360.7,389.1 373.9,397.2 387.0,411.9 400.2,425.2 413.3,433.7 426.4,442.1 433.0,444.7 439.6,450.2 452.7,454.7 465.9,455.4 479.0,458.6 485.6,458.6 485.6,460.5 479.0,460.5 465.9,457.4 452.7,456.6 439.6,452.1 433.0,446.6 426.4,444.0 413.3,435.6 400.2,427.2 387.0,413.8 373.9,399.2 360.7,391.0 347.6,379.4" fill="#bec04f"/>
<polygon points="347.6,378.7 360.7,390.3 373.9,398.5 387.0,413.1 400.2,426.5 413.3,434.9 426.4,443.3 433.0,445.9 439.6,451.4 452.7,455.9 465.9,456.7 479.0,459.8 485.6,459.8 485.6,461.8 479.0,461.8 465.9,458.6 452.7,457.9 439.6,453.4 433.0,447.9 426.4,445.2 413.3,436.9 400.2,428.4 387.0,415.1 373.9,400.4 360.7,392.2 347.6,380.6" fill="#bac250"/>
<polygon points="347.6,379.9 360.7,391.6 373.9,399.8 387.0,414.4 400.2,427.8 413.3,436.2 426.4,444.6 433.0,447.2 439.6,452.7 452.7,457.2 465.9,457.9 479.0,461.1 485.6,461.1 485.6,463.0 479.0,463.0 465.9,459.9 452.7,459.1 439.6,454.6 433.0,449.1 426.4,446.5 413.3,438.1 400.2,429.7 387.0,416.3 373.9,401.7 360.7,393.5 347.6,381.9" fill="#b5c552"/>
<polygon points="347.6,381.2 360.7,392.8 373.9,401.0 387.0,415.6 400.2,429.0 413.3,437.4 426.4,445.8 433.0,448.4 439.6,453.9 452.7,458.4 465.9,459.2 479.0,462.3 485.6,462.3 485.6,464.2 479.0,464.2 465.9,461.1 452.7,460.4 439.6,455.9 433.0,450.4 426.4,447.8 413.3,439.4 400.2,430.9 387.0,417.6 373.9,402.9 360.7,394.8 347.6,383.1" fill="#b0c853"/>
<polygon points="347.6,382.4 360.7,394.1 373.9,402.2 387.0,416.9 400.2,430.2 413.3,438.7 426.4,447.1 433.0,449.7 439.6,455.2 452.7,459.7 465.9,460.4 479.0,463.6 485.6,463.6 485.6,465.5 479.0,465.5 465.9,462.4 452.7,461.6 439.6,457.1 433.0,451.6 426.4,449.0 413.3,440.6 400.2,432.2 387.0,418.8 373.9,404.2 360.7,396.0 347.6,384.4" fill="#abcb54"/>
</g>
<g opacity="0.55">
<polygon points="347.6,351.8 360.7,356.5 373.9,364.4 387.0,372.3 400.2,379.7 413.3,384.4 426.4,391.7 433.0,393.6 439.6,398.4 452.7,406.6 465.9,421.3 479.0,422.4 485.6,424.5 485.6,425.9 479.0,423.7 465.9,422.6 452.7,407.9 439.6,399.7 433.0,394.9 426.4,392.9 413.3,385.6 400.2,380.9 387.0,373.6 373.9,365.6 360.7,357.8 347.6,353.1" fill="#54a6e0"/>
<polygon points="347.6,352.4 360.7,357.1 373.9,364.9 387.0,372.9 400.2,380.2 413.3,384.9 426.4,392.2 433.0,394.2 439.6,399.0 452.7,407.2 465.9,421.9 479.0,423.0 485.6,425.2 485.6,427.2 479.0,425.1 465.9,424.0 452.7,409.2 439.6,401.0 433.0,396.2 426.4,394.2 413.3,386.9 400.2,382.2 387.0,374.8 373.9,366.9 360.7,359.0 347.6,354.3" fill="#60ace0"/>
<polygon points="347.6,353.6 360.7,358.3 373.9,366.2 387.0,374.1 400.2,381.5 413.3,386.2 426.4,393.5 433.0,395.5 439.6,400.3 452.7,408.5 465.9,423.3 479.0,424.4 485.6,426.6 485.6,428.6 479.0,426.4 465.9,425.3 452.7,410.5 439.6,402.2 433.0,397.4 426.4,395.4 413.3,388.1 400.2,383.4 387.0,376.1 373.9,368.1 360.7,360.2 347.6,355.6" fill="#6cb0e1"/>
<polygon points="347.6,354.9 360.7,359.6 373.9,367.4 387.0,375.4 400.2,382.8 413.3,387.4 426.4,394.8 433.0,396.7 439.6,401.5 452.7,409.8 465.9,424.6 479.0,425.7 485.6,427.9 485.6,430.0 479.0,427.8 465.9,426.7 452.7,411.9 439.6,403.5 433.0,398.7 426.4,396.7 413.3,389.4 400.2,384.7 387.0,377.3 373.9,369.4 360.7,361.5 347.6,356.8" fill="#79b6e1"/>
<polygon points="347.6,356.1 360.7,360.8 373.9,368.7 387.0,376.6 400.2,384.0 413.3,388.7 426.4,396.0 433.0,398.0 439.6,402.8 452.7,411.2 465.9,426.0 479.0,427.1 485.6,429.3 485.6,431.4 479.0,429.1 465.9,428.0 452.7,413.2 439.6,404.8 433.0,400.0 426.4,397.9 413.3,390.6 400.2,385.9 387.0,378.6 373.9,370.6 360.7,362.8 347.6,358.1" fill="#85bae1"/>
<polygon points="347.6,357.4 360.7,362.1 373.9,369.9 387.0,377.9 400.2,385.2 413.3,389.9 426.4,397.2 433.0,399.3 439.6,404.1 452.7,412.5 465.9,427.3 479.0,428.4 485.6,430.7 485.6,432.8 479.0,430.5 465.9,429.4 452.7,414.5 439.6,406.1 433.0,401.3 426.4,399.2 413.3,391.9 400.2,387.2 387.0,379.8 373.9,371.9 360.7,364.0 347.6,359.3" fill="#91c0e2"/>
<polygon points="347.6,358.6 360.7,363.3 373.9,371.2 387.0,379.1 400.2,386.5 413.3,391.2 426.4,398.5 433.0,400.6 439.6,405.4 452.7,413.8 465.9,428.7 479.0,429.8 485.6,432.1 485.6,434.1 479.0,431.8 465.9,430.7 452.7,415.8 439.6,407.4 433.0,402.6 426.4,400.4 413.3,393.1 400.2,388.4 387.0,381.1 373.9,373.1 360.7,365.2 347.6,360.6" fill="#9ec4e1"/>
<polygon points="347.6,359.9 360.7,364.6 373.9,372.4 387.0,380.4 400.2,387.8 413.3,392.4 426.4,399.8 433.0,401.9 439.6,406.7 452.7,415.1 465.9,430.0 479.0,431.1 485.6,433.4 485.6,435.5 479.0,433.1 465.9,432.1 452.7,417.1 439.6,408.6 433.0,403.9 426.4,401.7 413.3,394.4 400.2,389.7 387.0,382.3 373.9,374.4 360.7,366.5 347.6,361.8" fill="#adc2d5"/>
<polygon points="347.6,361.1 360.7,365.8 373.9,373.7 387.0,381.6 400.2,389.0 413.3,393.7 426.4,401.0 433.0,403.2 439.6,407.9 452.7,416.4 465.9,431.4 479.0,432.4 485.6,434.8 485.6,436.9 479.0,434.5 465.9,433.4 452.7,418.4 439.6,409.9 433.0,405.1 426.4,402.9 413.3,395.6 400.2,390.9 387.0,383.6 373.9,375.6 360.7,367.8 347.6,363.1" fill="#bcc0c9"/>
<polygon points="347.6,362.4 360.7,367.1 373.9,374.9 387.0,382.9 400.2,390.2 413.3,394.9 426.4,402.2 433.0,404.4 439.6,409.2 452.7,417.7 465.9,432.7 479.0,433.8 485.6,436.2 485.6,438.2 479.0,435.8 465.9,434.7 452.7,419.7 439.6,411.2 433.0,406.4 426.4,404.2 413.3,396.9 400.2,392.2 387.0,384.8 373.9,376.9 360.7,369.0 347.6,364.3" fill="#ccbfbd"/>
<polygon points="347.6,363.6 360.7,368.3 373.9,376.2 387.0,384.1 400.2,391.5 413.3,396.2 426.4,403.5 433.0,405.7 439.6,410.5 452.7,419.0 465.9,434.0 479.0,435.1 485.6,437.6 485.6,439.6 479.0,437.2 465.9,436.1 452.7,421.0 439.6,412.5 433.0,407.7 426.4,405.4 413.3,398.1 400.2,393.4 387.0,386.1 373.9,378.1 360.7,370.2 347.6,365.6" fill="#dbbdb0"/>
<polygon points="347.6,364.9 360.7,369.6 373.9,377.4 387.0,385.4 400.2,392.8 413.3,397.4 426.4,404.8 433.0,407.0 439.6,411.8 452.7,420.3 465.9,435.4 479.0,436.5 485.6,438.9 485.6,441.0 479.0,438.5 465.9,437.4 452.7,422.4 439.6,413.8 433.0,409.0 426.4,406.7 413.3,399.4 400.2,394.7 387.0,387.3 373.9,379.4 360.7,371.5 347.6,366.8" fill="#e7baa2"/>
<polygon points="347.6,366.1 360.7,370.8 373.9,378.7 387.0,386.6 400.2,394.0 413.3,398.7 426.4,406.0 433.0,408.3 439.6,413.1 452.7,421.7 465.9,436.7 479.0,437.8 485.6,440.3 485.6,442.4 479.0,439.9 465.9,438.8 452.7,423.7 439.6,415.1 433.0,410.3 426.4,407.9 413.3,400.6 400.2,395.9 387.0,388.6 373.9,380.6 360.7,372.8 347.6,368.1" fill="#eab490"/>
<polygon points="347.6,367.4 360.7,372.1 373.9,379.9 387.0,387.9 400.2,395.2 413.3,399.9 426.4,407.2 433.0,409.6 439.6,414.4 452.7,423.0 465.9,438.1 479.0,439.2 485.6,441.7 485.6,443.8 479.0,441.2 465.9,440.1 452.7,425.0 439.6,416.3 433.0,411.5 426.4,409.2 413.3,401.9 400.2,397.2 387.0,389.8 373.9,381.9 360.7,374.0 347.6,369.3" fill="#edaf7e"/>
<polygon points="347.6,368.6 360.7,373.3 373.9,381.2 387.0,389.1 400.2,396.5 413.3,401.2 426.4,408.5 433.0,410.8 439.6,415.6 452.7,424.3 465.9,439.4 479.0,440.5 485.6,443.1 485.6,445.1 479.0,442.6 465.9,441.5 452.7,426.3 439.6,417.6 433.0,412.8 426.4,410.4 413.3,403.1 400.2,398.4 387.0,391.1 373.9,383.1 360.7,375.2 347.6,370.6" fill="#f0a96c"/>
<polygon points="347.6,369.9 360.7,374.6 373.9,382.4 387.0,390.4 400.2,397.8 413.3,402.4 426.4,409.8 433.0,412.1 439.6,416.9 452.7,425.6 465.9,440.8 479.0,441.9 485.6,444.4 485.6,446.5 479.0,443.9 465.9,442.8 452.7,427.6 439.6,418.9 433.0,414.1 426.4,411.7 413.3,404.4 400.2,399.7 387.0,392.3 373.9,384.4 360.7,376.5 347.6,371.8" fill="#f3a359"/>
</g>
<polyline points="347.6,361.8 360.7,366.5 373.9,374.4 387.0,382.3 400.2,389.7 413.3,394.4 426.4,401.7 433.0,404.1 439.6,409.4 452.7,418.6 465.9,434.3 479.0,435.4 485.6,438.0" fill="none" stroke="#333" stroke-width="0.8"/>
<circle cx="347.6" cy="361.8" r="1.3" fill="none" stroke="#333" stroke-width="0.6"/>
<circle cx="360.7" cy="366.5" r="1.3" fill="none" stroke="#333" stroke-width="0.6"/>
<circle cx="373.9" cy="374.4" r="1.3" fill="none" stroke="#333" stroke-width="0.6"/>
<circle cx="387.0" cy="382.3" r="1.3" fill="none" stroke="#333" stroke-width="0.6"/>
<circle cx="400.2" cy="389.7" r="1.3" fill="none" stroke="#333" stroke-width="0.6"/>
<circle cx="413.3" cy="394.4" r="1.3" fill="none" stroke="#333" stroke-width="0.6"/>
<circle cx="426.4" cy="401.7" r="1.3" fill="none" stroke="#333" stroke-width="0.6"/>
<circle cx="433.0" cy="404.1" r="1.3" fill="none" stroke="#333" stroke-width="0.6"/>
<circle cx="439.6" cy="409.4" r="1.3" fill="none" stroke="#333" stroke-width="0.6"/>
<circle cx="452.7" cy="418.6" r="1.3" fill="none" stroke="#333" stroke-width="0.6"/>
<circle cx="465.9" cy="434.3" r="1.3" fill="none" stroke="#333" stroke-width="0.6"/>
<circle cx="479.0" cy="435.4" r="1.3" fill="none" stroke="#333" stroke-width="0.6"/>
<circle cx="485.6" cy="438.0" r="1.3" fill="none" stroke="#333" stroke-width="0.6"/>
<polyline points="347.6,373.4 360.7,385.0 373.9,393.2 387.0,407.8 400.2,421.2 413.3,429.6 426.4,438.0 433.0,440.6 439.6,446.1 452.7,450.6 465.9,451.4 479.0,454.5 485.6,454.5" fill="none" stroke="#333" stroke-width="0.8"/>
<path d="M347.6,371.8 L349.1,374.4 L346.1,374.4 Z" fill="none" stroke="#333" stroke-width="0.6"/>
<path d="M360.7,383.4 L362.2,386.0 L359.2,386.0 Z" fill="none" stroke="#333" stroke-width="0.6"/>
<path d="M373.9,391.6 L375.4,394.2 L372.4,394.2 Z" fill="none" stroke="#333" stroke-width="0.6"/>
<path d="M387.0,406.2 L388.5,408.8 L385.5,408.8 Z" fill="none" stroke="#333" stroke-width="0.6"/>
<path d="M400.2,419.6 L401.7,422.2 L398.7,422.2 Z" fill="none" stroke="#333" stroke-width="0.6"/>
<path d="M413.3,428.0 L414.8,430.6 L411.8,430.6 Z" fill="none" stroke="#333" stroke-width="0.6"/>
<path d="M426.4,436.4 L427.9,439.0 L424.9,439.0 Z" fill="none" stroke="#333" stroke-width="0.6"/>
<path d="M433.0,439.0 L434.5,441.6 L431.5,441.6 Z" fill="none" stroke="#333" stroke-width="0.6"/>
<path d="M439.6,444.5 L441.1,447.1 L438.1,447.1 Z" fill="none" stroke="#333" stroke-width="0.6"/>
<path d="M452.7,449.0 L454.2,451.6 L451.2,451.6 Z" fill="none" stroke="#333" stroke-width="0.6"/>
<path d="M465.9,449.8 L467.4,452.4 L464.4,452.4 Z" fill="none" stroke="#333" stroke-width="0.6"/>
<path d="M479.0,452.9 L480.5,455.5 L477.5,455.5 Z" fill="none" stroke="#333" stroke-width="0.6"/>
<path d="M485.6,452.9 L487.1,455.5 L484.1,455.5 Z" fill="none" stroke="#333" stroke-width="0.6"/>
<polyline points="347.6,377.8 360.7,385.0 373.9,394.4 387.0,404.7 400.2,415.9 413.3,421.7 426.4,430.9 433.0,434.3 439.6,438.0 452.7,444.8 465.9,451.4 479.0,453.8 485.6,453.8" fill="none" stroke="#333" stroke-width="0.8"/>
<rect x="346.4" y="376.6" width="2.4" height="2.4" fill="none" stroke="#333" stroke-width="0.6"/>
<rect x="359.5" y="383.8" width="2.4" height="2.4" fill="none" stroke="#333" stroke-width="0.6"/>
<rect x="372.7" y="393.2" width="2.4" height="2.4" fill="none" stroke="#333" stroke-width="0.6"/>
<rect x="385.8" y="403.5" width="2.4" height="2.4" fill="none" stroke="#333" stroke-width="0.6"/>
<rect x="399.0" y="414.7" width="2.4" height="2.4" fill="none" stroke="#333" stroke-width="0.6"/>
<rect x="412.1" y="420.5" width="2.4" height="2.4" fill="none" stroke="#333" stroke-width="0.6"/>
<rect x="425.2" y="429.7" width="2.4" height="2.4" fill="none" stroke="#333" stroke-width="0.6"/>
<rect x="431.8" y="433.1" width="2.4" height="2.4" fill="none" stroke="#333" stroke-width="0.6"/>
<rect x="438.4" y="436.8" width="2.4" height="2.4" fill="none" stroke="#333" stroke-width="0.6"/>
<rect x="451.5" y="443.6" width="2.4" height="2.4" fill="none" stroke="#333" stroke-width="0.6"/>
<rect x="464.7" y="450.2" width="2.4" height="2.4" fill="none" stroke="#333" stroke-width="0.6"/>
<rect x="477.8" y="452.6" width="2.4" height="2.4" fill="none" stroke="#333" stroke-width="0.6"/>
<rect x="484.4" y="452.6" width="2.4" height="2.4" fill="none" stroke="#333" stroke-width="0.6"/>
<line x1="347.6" y1="344.8" x2="347.6" y2="473.3" stroke="#555" stroke-width="1" />
<line x1="347.6" y1="473.3" x2="490.8" y2="473.3" stroke="#555" stroke-width="1" />
<line x1="347.6" y1="473.3" x2="349.6" y2="473.3" stroke="#555" stroke-width="0.8" />
<text x="346.1" y="476.0" font-size="7.6" fill="#444" stroke="#444" stroke-width="0.15" text-anchor="end" >0</text>
<line x1="347.6" y1="441.2" x2="349.6" y2="441.2" stroke="#555" stroke-width="0.8" />
<text x="346.1" y="443.9" font-size="7.6" fill="#444" stroke="#444" stroke-width="0.15" text-anchor="end" >0.2</text>
<line x1="347.6" y1="409.1" x2="349.6" y2="409.1" stroke="#555" stroke-width="0.8" />
<text x="346.1" y="411.8" font-size="7.6" fill="#444" stroke="#444" stroke-width="0.15" text-anchor="end" >0.4</text>
<line x1="347.6" y1="376.9" x2="349.6" y2="376.9" stroke="#555" stroke-width="0.8" />
<text x="346.1" y="379.6" font-size="7.6" fill="#444" stroke="#444" stroke-width="0.15" text-anchor="end" >0.6</text>
<line x1="347.6" y1="344.8" x2="349.6" y2="344.8" stroke="#555" stroke-width="0.8" />
<text x="346.1" y="347.5" font-size="7.6" fill="#444" stroke="#444" stroke-width="0.15" text-anchor="end" >0.8</text>
<line x1="347.6" y1="473.3" x2="347.6" y2="471.3" stroke="#555" stroke-width="0.8" />
<text x="347.6" y="481.2" font-size="7.6" fill="#444" stroke="#444" stroke-width="0.15" text-anchor="middle" >1</text>
<line x1="380.5" y1="473.3" x2="380.5" y2="471.3" stroke="#555" stroke-width="0.8" />
<text x="380.5" y="481.2" font-size="7.6" fill="#444" stroke="#444" stroke-width="0.15" text-anchor="middle" >1.5</text>
<line x1="413.3" y1="473.3" x2="413.3" y2="471.3" stroke="#555" stroke-width="0.8" />
<text x="413.3" y="481.2" font-size="7.6" fill="#444" stroke="#444" stroke-width="0.15" text-anchor="middle" >2</text>
<line x1="446.2" y1="473.3" x2="446.2" y2="471.3" stroke="#555" stroke-width="0.8" />
<text x="446.2" y="481.2" font-size="7.6" fill="#444" stroke="#444" stroke-width="0.15" text-anchor="middle" >2.5</text>
<line x1="479.0" y1="473.3" x2="479.0" y2="471.3" stroke="#555" stroke-width="0.8" />
<text x="479.0" y="481.2" font-size="7.6" fill="#444" stroke="#444" stroke-width="0.15" text-anchor="middle" >3</text>
<text x="396.5" y="494.9" font-size="9.8" fill="#231f20" stroke="#231f20" stroke-width="0.15" text-anchor="start" textLength="48.7" lengthAdjust="spacingAndGlyphs" >Z Threshold</text>
<text x="0" y="0" font-size="9.3" fill="#231f20" stroke="#231f20" stroke-width="0.15" text-anchor="middle" textLength="17.0" lengthAdjust="spacingAndGlyphs" transform="translate(331.0,408.5) rotate(-90)">DOC</text>
<line x1="408.0" y1="349.7" x2="423.0" y2="349.7" stroke="#333" stroke-width="0.8" />
<circle cx="415.6" cy="349.7" r="3.2" fill="none" stroke="#333" stroke-width="0.8"/>
<text x="435.0" y="352.9" font-size="9.3" fill="#333" stroke="#333" stroke-width="0.15" text-anchor="start" >Foot-Som</text>
<line x1="408.0" y1="360.7" x2="423.0" y2="360.7" stroke="#333" stroke-width="0.8" />
<path d="M415.6,357.3 L419.1,363.3 L412.1,363.3 Z" fill="none" stroke="#333" stroke-width="0.8"/>
<text x="435.0" y="363.9" font-size="9.3" fill="#333" stroke="#333" stroke-width="0.15" text-anchor="start" >Foot-Ank</text>
<line x1="408.0" y1="371.7" x2="423.0" y2="371.7" stroke="#333" stroke-width="0.8" />
<rect x="412.5" y="368.59999999999997" width="6.2" height="6.2" fill="none" stroke="#333" stroke-width="0.8"/>
<text x="435.0" y="374.9" font-size="9.3" fill="#333" stroke="#333" stroke-width="0.15" text-anchor="start" >Ank-Som</text>
<g opacity="0.6">
<polygon points="346.3,520.9 359.4,526.8 372.4,538.0 385.5,550.0 398.5,553.5 411.6,555.0 424.7,559.8 431.2,565.1 437.7,562.8 450.8,564.4 463.8,578.8 476.9,574.3 483.4,568.9 483.4,571.8 476.9,576.5 463.8,580.5 450.8,566.4 437.7,564.9 431.2,567.2 424.7,562.2 411.6,557.5 398.5,554.7 385.5,550.6 372.4,538.6 359.4,527.5 346.3,521.5" fill="#a2d6a3"/>
<polygon points="346.3,520.8 359.4,526.8 372.4,537.9 385.5,549.9 398.5,554.0 411.6,556.8 424.7,561.5 431.2,566.5 437.7,564.2 450.8,565.7 463.8,579.8 476.9,575.8 483.4,571.1 483.4,574.7 476.9,578.8 463.8,582.2 450.8,568.5 437.7,566.9 431.2,569.2 424.7,564.6 411.6,560.0 398.5,555.8 385.5,551.2 372.4,539.2 359.4,528.3 346.3,522.0" fill="#9bd3a8"/>
<polygon points="346.3,521.3 359.4,527.6 372.4,538.5 385.5,550.5 398.5,555.1 411.6,559.3 424.7,563.9 431.2,568.5 437.7,566.2 450.8,567.8 463.8,581.5 476.9,578.1 483.4,574.0 483.4,577.5 476.9,581.0 463.8,583.9 450.8,570.5 437.7,569.0 431.2,571.3 424.7,567.0 411.6,562.5 398.5,557.0 385.5,551.9 372.4,539.9 359.4,529.0 346.3,522.6" fill="#94cfae"/>
<polygon points="346.3,521.9 359.4,528.3 372.4,539.2 385.5,551.2 398.5,556.3 411.6,561.8 424.7,566.3 431.2,570.6 437.7,568.3 450.8,569.8 463.8,583.2 476.9,580.3 483.4,576.8 483.4,580.4 476.9,583.2 463.8,585.6 450.8,572.5 437.7,571.1 431.2,573.3 424.7,569.3 411.6,565.0 398.5,558.1 385.5,552.5 372.4,540.5 359.4,529.8 346.3,523.2" fill="#8dccb3"/>
<polygon points="346.3,522.5 359.4,529.1 372.4,539.8 385.5,551.8 398.5,557.4 411.6,564.3 424.7,568.6 431.2,572.6 437.7,570.4 450.8,571.8 463.8,584.9 476.9,582.5 483.4,579.7 483.4,583.3 476.9,585.5 463.8,587.3 450.8,574.6 437.7,573.2 431.2,575.4 424.7,571.7 411.6,567.5 398.5,559.3 385.5,553.1 372.4,541.1 359.4,530.5 346.3,523.7" fill="#85c8b9"/>
<polygon points="346.3,523.0 359.4,529.8 372.4,540.4 385.5,552.4 398.5,558.6 411.6,566.8 424.7,571.0 431.2,574.7 437.7,572.5 450.8,573.9 463.8,586.6 476.9,584.8 483.4,582.6 483.4,586.2 476.9,587.7 463.8,589.0 450.8,576.6 437.7,575.2 431.2,577.4 424.7,574.1 411.6,570.0 398.5,560.4 385.5,553.8 372.4,541.8 359.4,531.3 346.3,524.3" fill="#7ec5be"/>
<polygon points="346.3,523.6 359.4,530.6 372.4,541.0 385.5,553.0 398.5,559.7 411.6,569.3 424.7,573.4 431.2,576.7 437.7,574.5 450.8,575.9 463.8,588.3 476.9,587.0 483.4,585.5 483.4,589.1 476.9,589.9 463.8,590.7 450.8,578.7 437.7,577.3 431.2,579.5 424.7,576.5 411.6,572.5 398.5,561.6 385.5,554.4 372.4,542.4 359.4,532.0 346.3,524.9" fill="#77c1c4"/>
<polygon points="346.3,524.2 359.4,531.3 372.4,541.7 385.5,553.7 398.5,560.9 411.6,571.8 424.7,575.8 431.2,578.8 437.7,576.6 450.8,578.0 463.8,590.0 476.9,589.2 483.4,588.4 483.4,592.0 476.9,592.1 463.8,592.4 450.8,580.7 437.7,579.4 431.2,581.5 424.7,578.9 411.6,575.0 398.5,562.8 385.5,555.0 372.4,543.0 359.4,532.8 346.3,525.5" fill="#70bec9"/>
<polygon points="346.3,524.8 359.4,532.0 372.4,542.3 385.5,554.3 398.5,562.0 411.6,574.3 424.7,578.2 431.2,580.8 437.7,578.7 450.8,580.0 463.8,591.7 476.9,591.4 483.4,591.2 483.4,594.8 476.9,594.4 463.8,594.1 450.8,582.7 437.7,581.5 431.2,583.6 424.7,581.3 411.6,577.5 398.5,563.9 385.5,555.6 372.4,543.6 359.4,533.5 346.3,526.0" fill="#6dbccc"/>
<polygon points="346.3,525.3 359.4,532.8 372.4,542.9 385.5,554.9 398.5,563.2 411.6,576.8 424.7,580.6 431.2,582.9 437.7,580.8 450.8,582.0 463.8,593.4 476.9,593.7 483.4,594.1 483.4,597.7 476.9,596.6 463.8,595.8 450.8,584.8 437.7,583.5 431.2,585.7 424.7,583.7 411.6,580.0 398.5,565.1 385.5,556.2 372.4,544.2 359.4,534.2 346.3,526.6" fill="#70becc"/>
<polygon points="346.3,525.9 359.4,533.5 372.4,543.5 385.5,555.5 398.5,564.4 411.6,579.3 424.7,583.0 431.2,585.0 437.7,582.8 450.8,584.1 463.8,595.1 476.9,595.9 483.4,597.0 483.4,600.6 476.9,598.8 463.8,597.5 450.8,586.8 437.7,585.6 431.2,587.7 424.7,586.1 411.6,582.5 398.5,566.2 385.5,556.9 372.4,544.9 359.4,535.0 346.3,527.2" fill="#72becc"/>
<polygon points="346.3,526.5 359.4,534.3 372.4,544.2 385.5,556.2 398.5,565.5 411.6,581.8 424.7,585.4 431.2,587.0 437.7,584.9 450.8,586.1 463.8,596.8 476.9,598.1 483.4,599.9 483.4,603.5 476.9,601.1 463.8,599.2 450.8,588.9 437.7,587.7 431.2,589.8 424.7,588.5 411.6,585.0 398.5,567.4 385.5,557.5 372.4,545.5 359.4,535.7 346.3,527.7" fill="#75c0cc"/>
<polygon points="346.3,527.0 359.4,535.0 372.4,544.8 385.5,556.8 398.5,566.7 411.6,584.3 424.7,587.8 431.2,589.1 437.7,587.0 450.8,588.1 463.8,598.5 476.9,600.4 483.4,602.8 483.4,606.4 476.9,603.3 463.8,600.9 450.8,590.9 437.7,589.8 431.2,591.8 424.7,590.8 411.6,587.5 398.5,568.5 385.5,558.1 372.4,546.1 359.4,536.5 346.3,528.3" fill="#77c0cc"/>
<polygon points="346.3,527.6 359.4,535.8 372.4,545.4 385.5,557.4 398.5,567.8 411.6,586.8 424.7,590.1 431.2,591.1 437.7,589.1 450.8,590.2 463.8,600.2 476.9,602.6 483.4,605.7 483.4,609.2 476.9,605.5 463.8,602.6 450.8,592.9 437.7,591.9 431.2,593.9 424.7,593.2 411.6,590.0 398.5,569.7 385.5,558.8 372.4,546.8 359.4,537.2 346.3,528.9" fill="#7ac2cc"/>
<polygon points="346.3,528.2 359.4,536.5 372.4,546.0 385.5,558.0 398.5,569.0 411.6,589.3 424.7,592.5 431.2,593.2 437.7,591.1 450.8,592.2 463.8,601.9 476.9,604.8 483.4,608.5 483.4,612.1 476.9,607.8 463.8,604.3 450.8,595.0 437.7,593.9 431.2,595.9 424.7,595.6 411.6,592.5 398.5,570.8 385.5,559.4 372.4,547.4 359.4,538.0 346.3,529.4" fill="#7cc2cc"/>
<polygon points="346.3,528.7 359.4,537.3 372.4,546.7 385.5,558.7 398.5,570.1 411.6,591.8 424.7,594.9 431.2,595.2 437.7,593.2 450.8,594.3 463.8,603.6 476.9,607.1 483.4,611.4 483.4,615.0 476.9,610.0 463.8,606.0 450.8,597.0 437.7,596.0 431.2,598.0 424.7,598.0 411.6,595.0 398.5,572.0 385.5,560.0 372.4,548.0 359.4,538.7 346.3,530.0" fill="#7fc4cc"/>
</g>
<g opacity="0.55">
<polygon points="346.3,536.0 359.4,542.0 372.4,546.0 385.5,556.0 398.5,560.0 411.6,572.0 424.7,590.0 431.2,592.0 437.7,590.0 450.8,595.0 463.8,610.0 476.9,612.0 483.4,615.0 483.4,616.2 476.9,613.4 463.8,611.4 450.8,596.6 437.7,591.7 431.2,593.6 424.7,591.8 411.6,574.2 398.5,561.7 385.5,557.7 372.4,547.6 359.4,543.5 346.3,537.3" fill="#b6d57a"/>
<polygon points="346.3,536.6 359.4,542.8 372.4,546.9 385.5,557.0 398.5,561.0 411.6,573.5 424.7,591.1 431.2,592.9 437.7,591.0 450.8,595.9 463.8,610.7 476.9,612.7 483.4,615.5 483.4,617.4 476.9,614.8 463.8,612.9 450.8,598.2 437.7,593.5 431.2,595.2 424.7,593.6 411.6,576.4 398.5,563.4 385.5,559.4 372.4,549.2 359.4,545.0 346.3,538.6" fill="#b7d67b"/>
<polygon points="346.3,537.9 359.4,544.3 372.4,548.5 385.5,558.7 398.5,562.7 411.6,575.7 424.7,592.9 431.2,594.5 437.7,592.8 450.8,597.5 463.8,612.2 476.9,614.1 483.4,616.7 483.4,618.6 476.9,616.2 463.8,614.3 450.8,599.8 437.7,595.2 431.2,596.9 424.7,595.5 411.6,578.6 398.5,565.1 385.5,561.1 372.4,550.7 359.4,546.6 346.3,539.8" fill="#b8d67b"/>
<polygon points="346.3,539.1 359.4,545.9 372.4,550.0 385.5,560.4 398.5,564.4 411.6,577.9 424.7,594.8 431.2,596.2 437.7,594.5 450.8,599.1 463.8,613.6 476.9,615.5 483.4,617.9 483.4,619.9 476.9,617.6 463.8,615.8 450.8,601.4 437.7,596.9 431.2,598.5 424.7,597.3 411.6,580.8 398.5,566.8 385.5,562.8 372.4,552.3 359.4,548.1 346.3,541.1" fill="#b9d77b"/>
<polygon points="346.3,540.4 359.4,547.4 372.4,551.6 385.5,562.1 398.5,566.1 411.6,580.0 424.7,596.6 431.2,597.8 437.7,596.2 450.8,600.7 463.8,615.0 476.9,616.9 483.4,619.1 483.4,621.1 476.9,619.0 463.8,617.2 450.8,603.0 437.7,598.7 431.2,600.1 424.7,599.1 411.6,582.9 398.5,568.5 385.5,564.5 372.4,553.9 359.4,549.6 346.3,542.4" fill="#bad77c"/>
<polygon points="346.3,541.7 359.4,548.9 372.4,553.2 385.5,563.8 398.5,567.8 411.6,582.2 424.7,598.4 431.2,599.4 437.7,598.0 450.8,602.3 463.8,616.5 476.9,618.3 483.4,620.4 483.4,622.3 476.9,620.4 463.8,618.6 450.8,604.6 437.7,600.4 431.2,601.8 424.7,601.0 411.6,585.1 398.5,570.2 385.5,566.2 372.4,555.5 359.4,551.1 346.3,543.7" fill="#bcd77c"/>
<polygon points="346.3,543.0 359.4,550.4 372.4,554.8 385.5,565.5 398.5,569.5 411.6,584.4 424.7,600.2 431.2,601.0 437.7,599.7 450.8,603.9 463.8,617.9 476.9,619.7 483.4,621.6 483.4,623.5 476.9,621.8 463.8,620.1 450.8,606.2 437.7,602.1 431.2,603.4 424.7,602.8 411.6,587.3 398.5,571.9 385.5,567.9 372.4,557.1 359.4,552.7 346.3,545.0" fill="#bdd87c"/>
<polygon points="346.3,544.3 359.4,552.0 372.4,556.4 385.5,567.2 398.5,571.2 411.6,586.6 424.7,602.1 431.2,602.7 437.7,601.4 450.8,605.5 463.8,619.4 476.9,621.1 483.4,622.8 483.4,624.7 476.9,623.2 463.8,621.5 450.8,607.9 437.7,603.9 431.2,605.0 424.7,604.6 411.6,589.5 398.5,573.6 385.5,569.6 372.4,558.6 359.4,554.2 346.3,546.2" fill="#bed87d"/>
<polygon points="346.3,545.5 359.4,553.5 372.4,557.9 385.5,568.9 398.5,572.9 411.6,588.8 424.7,603.9 431.2,604.3 437.7,603.1 450.8,607.1 463.8,620.8 476.9,622.5 483.4,624.0 483.4,625.9 476.9,624.6 463.8,622.9 450.8,609.5 437.7,605.6 431.2,606.6 424.7,606.4 411.6,591.7 398.5,575.3 385.5,571.3 372.4,560.2 359.4,555.7 346.3,547.5" fill="#bfd97d"/>
<polygon points="346.3,546.8 359.4,555.0 372.4,559.5 385.5,570.6 398.5,574.6 411.6,591.0 424.7,605.7 431.2,605.9 437.7,604.9 450.8,608.8 463.8,622.2 476.9,623.9 483.4,625.2 483.4,627.1 476.9,626.0 463.8,624.4 450.8,611.1 437.7,607.3 431.2,608.2 424.7,608.2 411.6,593.9 398.5,577.0 385.5,573.0 372.4,561.8 359.4,557.2 346.3,548.8" fill="#c0d97e"/>
<polygon points="346.3,548.1 359.4,556.5 372.4,561.1 385.5,572.3 398.5,576.3 411.6,593.2 424.7,607.5 431.2,607.5 437.7,606.6 450.8,610.4 463.8,623.7 476.9,625.3 483.4,626.4 483.4,628.3 476.9,627.4 463.8,625.8 450.8,612.7 437.7,609.0 431.2,609.9 424.7,610.1 411.6,596.1 398.5,578.7 385.5,574.7 372.4,563.4 359.4,558.8 346.3,550.1" fill="#c1da7e"/>
<polygon points="346.3,549.4 359.4,558.1 372.4,562.7 385.5,574.0 398.5,578.0 411.6,595.4 424.7,609.4 431.2,609.2 437.7,608.3 450.8,612.0 463.8,625.1 476.9,626.7 483.4,627.6 483.4,629.5 476.9,628.8 463.8,627.2 450.8,614.3 437.7,610.8 431.2,611.5 424.7,611.9 411.6,598.2 398.5,580.4 385.5,576.4 372.4,565.0 359.4,560.3 346.3,551.4" fill="#c3da7e"/>
<polygon points="346.3,550.7 359.4,559.6 372.4,564.3 385.5,575.7 398.5,579.7 411.6,597.5 424.7,611.2 431.2,610.8 437.7,610.1 450.8,613.6 463.8,626.5 476.9,628.1 483.4,628.8 483.4,630.8 476.9,630.2 463.8,628.7 450.8,615.9 437.7,612.5 431.2,613.1 424.7,613.7 411.6,600.4 398.5,582.1 385.5,578.1 372.4,566.6 359.4,561.8 346.3,552.7" fill="#c4da7f"/>
<polygon points="346.3,552.0 359.4,561.1 372.4,565.9 385.5,577.4 398.5,581.4 411.6,599.7 424.7,613.0 431.2,612.4 437.7,611.8 450.8,615.2 463.8,628.0 476.9,629.5 483.4,630.1 483.4,632.0 476.9,631.6 463.8,630.1 450.8,617.5 437.7,614.2 431.2,614.8 424.7,615.6 411.6,602.6 398.5,583.8 385.5,579.8 372.4,568.1 359.4,563.4 346.3,553.9" fill="#c5db7f"/>
<polygon points="346.3,553.2 359.4,562.6 372.4,567.4 385.5,579.1 398.5,583.1 411.6,601.9 424.7,614.9 431.2,614.0 437.7,613.5 450.8,616.8 463.8,629.4 476.9,630.9 483.4,631.3 483.4,633.2 476.9,633.0 463.8,631.6 450.8,619.1 437.7,616.0 431.2,616.4 424.7,617.4 411.6,604.8 398.5,585.5 385.5,581.5 372.4,569.7 359.4,564.9 346.3,555.2" fill="#c6db7f"/>
<polygon points="346.3,554.5 359.4,564.2 372.4,569.0 385.5,580.8 398.5,584.8 411.6,604.1 424.7,616.7 431.2,615.7 437.7,615.3 450.8,618.4 463.8,630.9 476.9,632.3 483.4,632.5 483.4,634.4 476.9,634.4 463.8,633.0 450.8,620.7 437.7,617.7 431.2,618.0 424.7,619.2 411.6,607.0 398.5,587.2 385.5,583.2 372.4,571.3 359.4,566.4 346.3,556.5" fill="#c7dc80"/>
</g>
<g opacity="0.5">
<polygon points="346.3,528.8 359.4,535.7 372.4,537.7 385.5,548.6 398.5,552.5 411.6,568.0 424.7,590.3 431.2,591.0 437.7,588.7 450.8,593.3 463.8,607.0 476.9,601.0 483.4,613.0 483.4,614.3 476.9,603.1 463.8,608.7 450.8,594.9 437.7,589.8 431.2,592.0 424.7,591.4 411.6,569.8 398.5,554.6 385.5,550.6 372.4,539.7 359.4,537.4 346.3,530.2" fill="#efa848"/>
<polygon points="346.3,529.5 359.4,536.7 372.4,539.0 385.5,549.9 398.5,553.9 411.6,569.1 424.7,590.7 431.2,591.3 437.7,589.1 450.8,594.2 463.8,608.0 476.9,602.4 483.4,613.6 483.4,615.7 476.9,605.2 463.8,610.3 450.8,596.5 437.7,590.9 431.2,593.0 424.7,592.6 411.6,571.6 398.5,556.7 385.5,552.6 372.4,541.7 359.4,539.2 346.3,531.6" fill="#eea949"/>
<polygon points="346.3,530.9 359.4,538.5 372.4,541.0 385.5,551.9 398.5,556.0 411.6,570.9 424.7,591.9 431.2,592.3 437.7,590.2 450.8,595.8 463.8,609.6 476.9,604.5 483.4,615.0 483.4,617.0 476.9,607.3 463.8,612.0 450.8,598.2 437.7,591.9 431.2,594.0 424.7,593.7 411.6,573.4 398.5,558.8 385.5,554.5 372.4,543.6 359.4,540.9 346.3,533.1" fill="#eea949"/>
<polygon points="346.3,532.4 359.4,540.2 372.4,542.9 385.5,553.8 398.5,558.1 411.6,572.7 424.7,593.0 431.2,593.3 437.7,591.2 450.8,597.5 463.8,611.3 476.9,606.6 483.4,616.3 483.4,618.4 476.9,609.4 463.8,613.7 450.8,599.8 437.7,593.0 431.2,595.0 424.7,594.8 411.6,575.2 398.5,560.9 385.5,556.5 372.4,545.6 359.4,542.6 346.3,534.5" fill="#edaa4a"/>
<polygon points="346.3,533.8 359.4,541.9 372.4,544.9 385.5,555.8 398.5,560.2 411.6,574.5 424.7,594.1 431.2,594.3 437.7,592.3 450.8,599.1 463.8,613.0 476.9,608.6 483.4,617.6 483.4,619.7 476.9,611.4 463.8,615.3 450.8,601.4 437.7,594.1 431.2,596.0 424.7,596.0 411.6,577.1 398.5,563.0 385.5,558.5 372.4,547.6 359.4,544.4 346.3,535.9" fill="#ecaa4a"/>
<polygon points="346.3,535.2 359.4,543.7 372.4,546.9 385.5,557.8 398.5,562.3 411.6,576.4 424.7,595.3 431.2,595.3 437.7,593.4 450.8,600.7 463.8,614.6 476.9,610.7 483.4,619.0 483.4,621.0 476.9,613.5 463.8,617.0 450.8,603.0 437.7,595.2 431.2,597.0 424.7,597.1 411.6,578.9 398.5,565.1 385.5,560.5 372.4,549.6 359.4,546.1 346.3,537.4" fill="#ecab4b"/>
<polygon points="346.3,536.6 359.4,545.4 372.4,548.9 385.5,559.8 398.5,564.4 411.6,578.2 424.7,596.4 431.2,596.3 437.7,594.5 450.8,602.3 463.8,616.3 476.9,612.8 483.4,620.3 483.4,622.4 476.9,615.6 463.8,618.7 450.8,604.6 437.7,596.3 431.2,598.0 424.7,598.3 411.6,580.7 398.5,567.2 385.5,562.5 372.4,551.6 359.4,547.8 346.3,538.8" fill="#ebab4b"/>
<polygon points="346.3,538.1 359.4,547.1 372.4,550.9 385.5,561.8 398.5,566.5 411.6,580.0 424.7,597.6 431.2,597.3 437.7,595.6 450.8,603.9 463.8,618.0 476.9,614.9 483.4,621.7 483.4,623.7 476.9,617.7 463.8,620.4 450.8,606.2 437.7,597.4 431.2,599.0 424.7,599.4 411.6,582.5 398.5,569.4 385.5,564.5 372.4,553.5 359.4,549.5 346.3,540.2" fill="#ebac4c"/>
<polygon points="346.3,539.5 359.4,548.8 372.4,552.8 385.5,563.8 398.5,568.6 411.6,581.8 424.7,598.7 431.2,598.3 437.7,596.6 450.8,605.5 463.8,619.6 476.9,617.0 483.4,623.0 483.4,625.0 476.9,619.8 463.8,622.0 450.8,607.9 437.7,598.4 431.2,600.0 424.7,600.5 411.6,584.3 398.5,571.5 385.5,566.4 372.4,555.5 359.4,551.3 346.3,541.6" fill="#eaac4c"/>
<polygon points="346.3,540.9 359.4,550.6 372.4,554.8 385.5,565.7 398.5,570.8 411.6,583.6 424.7,599.8 431.2,599.3 437.7,597.7 450.8,607.2 463.8,621.3 476.9,619.1 483.4,624.3 483.4,626.4 476.9,621.9 463.8,623.7 450.8,609.5 437.7,599.5 431.2,601.0 424.7,601.7 411.6,586.1 398.5,573.6 385.5,568.4 372.4,557.5 359.4,553.0 346.3,543.0" fill="#eaad4d"/>
<polygon points="346.3,542.3 359.4,552.3 372.4,556.8 385.5,567.7 398.5,572.9 411.6,585.4 424.7,601.0 431.2,600.3 437.7,598.8 450.8,608.8 463.8,623.0 476.9,621.2 483.4,625.7 483.4,627.7 476.9,624.0 463.8,625.4 450.8,611.1 437.7,600.6 431.2,602.0 424.7,602.8 411.6,587.9 398.5,575.7 385.5,570.4 372.4,559.5 359.4,554.7 346.3,544.5" fill="#e9ad4d"/>
<polygon points="346.3,543.8 359.4,554.0 372.4,558.8 385.5,569.7 398.5,575.0 411.6,587.2 424.7,602.1 431.2,601.3 437.7,599.9 450.8,610.4 463.8,624.7 476.9,623.3 483.4,627.0 483.4,629.0 476.9,626.0 463.8,627.0 450.8,612.7 437.7,601.7 431.2,603.0 424.7,604.0 411.6,589.8 398.5,577.8 385.5,572.4 372.4,561.5 359.4,556.5 346.3,545.9" fill="#e9ae4e"/>
<polygon points="346.3,545.2 359.4,555.8 372.4,560.8 385.5,571.7 398.5,577.1 411.6,589.0 424.7,603.2 431.2,602.3 437.7,601.0 450.8,612.0 463.8,626.3 476.9,625.3 483.4,628.3 483.4,630.4 476.9,628.1 463.8,628.7 450.8,614.3 437.7,602.8 431.2,604.0 424.7,605.1 411.6,591.6 398.5,579.9 385.5,574.4 372.4,563.5 359.4,558.2 346.3,547.3" fill="#e8ae4e"/>
<polygon points="346.3,546.6 359.4,557.5 372.4,562.8 385.5,573.7 398.5,579.2 411.6,590.9 424.7,604.4 431.2,603.3 437.7,602.1 450.8,613.6 463.8,628.0 476.9,627.4 483.4,629.7 483.4,631.7 476.9,630.2 463.8,630.4 450.8,616.0 437.7,603.8 431.2,605.0 424.7,606.2 411.6,593.4 398.5,582.0 385.5,576.3 372.4,565.4 359.4,559.9 346.3,548.8" fill="#e7af4f"/>
<polygon points="346.3,548.0 359.4,559.2 372.4,564.7 385.5,575.6 398.5,581.3 411.6,592.7 424.7,605.5 431.2,604.3 437.7,603.1 450.8,615.3 463.8,629.7 476.9,629.5 483.4,631.0 483.4,633.1 476.9,632.3 463.8,632.0 450.8,617.6 437.7,604.9 431.2,606.0 424.7,607.4 411.6,595.2 398.5,584.1 385.5,578.3 372.4,567.4 359.4,561.7 346.3,550.2" fill="#e7af4f"/>
<polygon points="346.3,549.5 359.4,561.0 372.4,566.7 385.5,577.6 398.5,583.4 411.6,594.5 424.7,606.7 431.2,605.3 437.7,604.2 450.8,616.9 463.8,631.3 476.9,631.6 483.4,632.4 483.4,634.4 476.9,634.4 463.8,633.7 450.8,619.2 437.7,606.0 431.2,607.0 424.7,608.5 411.6,597.0 398.5,586.2 385.5,580.3 372.4,569.4 359.4,563.4 346.3,551.6" fill="#e6b050"/>
</g>
<polyline points="346.3,523.6 359.4,532.0 372.4,543.9 385.5,559.1 398.5,567.0 411.6,578.5 424.7,582.5 431.2,586.2 437.7,584.6 450.8,584.6 463.8,601.7 476.9,598.5 483.4,596.4" fill="none" stroke="#333" stroke-width="0.8"/>
<rect x="345.1" y="522.4" width="2.4" height="2.4" fill="none" stroke="#333" stroke-width="0.6"/>
<rect x="358.2" y="530.8" width="2.4" height="2.4" fill="none" stroke="#333" stroke-width="0.6"/>
<rect x="371.2" y="542.7" width="2.4" height="2.4" fill="none" stroke="#333" stroke-width="0.6"/>
<rect x="384.3" y="557.9" width="2.4" height="2.4" fill="none" stroke="#333" stroke-width="0.6"/>
<rect x="397.3" y="565.8" width="2.4" height="2.4" fill="none" stroke="#333" stroke-width="0.6"/>
<rect x="410.4" y="577.3" width="2.4" height="2.4" fill="none" stroke="#333" stroke-width="0.6"/>
<rect x="423.5" y="581.3" width="2.4" height="2.4" fill="none" stroke="#333" stroke-width="0.6"/>
<rect x="430.0" y="585.0" width="2.4" height="2.4" fill="none" stroke="#333" stroke-width="0.6"/>
<rect x="436.5" y="583.4" width="2.4" height="2.4" fill="none" stroke="#333" stroke-width="0.6"/>
<rect x="449.6" y="583.4" width="2.4" height="2.4" fill="none" stroke="#333" stroke-width="0.6"/>
<rect x="462.6" y="600.5" width="2.4" height="2.4" fill="none" stroke="#333" stroke-width="0.6"/>
<rect x="475.7" y="597.3" width="2.4" height="2.4" fill="none" stroke="#333" stroke-width="0.6"/>
<rect x="482.2" y="595.2" width="2.4" height="2.4" fill="none" stroke="#333" stroke-width="0.6"/>
<polyline points="346.3,540.0 359.4,548.0 372.4,553.0 385.5,566.0 398.5,569.0 411.6,586.7 424.7,606.4 431.2,605.0 437.7,603.5 450.8,607.0 463.8,619.5 476.9,617.4 483.4,624.5" fill="none" stroke="#333" stroke-width="0.8"/>
<path d="M346.3,538.4 L347.8,541.0 L344.8,541.0 Z" fill="none" stroke="#333" stroke-width="0.6"/>
<path d="M359.4,546.4 L360.9,549.0 L357.9,549.0 Z" fill="none" stroke="#333" stroke-width="0.6"/>
<path d="M372.4,551.4 L373.9,554.0 L370.9,554.0 Z" fill="none" stroke="#333" stroke-width="0.6"/>
<path d="M385.5,564.4 L387.0,567.0 L384.0,567.0 Z" fill="none" stroke="#333" stroke-width="0.6"/>
<path d="M398.5,567.4 L400.0,570.0 L397.0,570.0 Z" fill="none" stroke="#333" stroke-width="0.6"/>
<path d="M411.6,585.1 L413.1,587.7 L410.1,587.7 Z" fill="none" stroke="#333" stroke-width="0.6"/>
<path d="M424.7,604.8 L426.2,607.4 L423.2,607.4 Z" fill="none" stroke="#333" stroke-width="0.6"/>
<path d="M431.2,603.4 L432.7,606.0 L429.7,606.0 Z" fill="none" stroke="#333" stroke-width="0.6"/>
<path d="M437.7,601.9 L439.2,604.5 L436.2,604.5 Z" fill="none" stroke="#333" stroke-width="0.6"/>
<path d="M450.8,605.4 L452.3,608.0 L449.3,608.0 Z" fill="none" stroke="#333" stroke-width="0.6"/>
<path d="M463.8,617.9 L465.3,620.5 L462.3,620.5 Z" fill="none" stroke="#333" stroke-width="0.6"/>
<path d="M476.9,615.8 L478.4,618.4 L475.4,618.4 Z" fill="none" stroke="#333" stroke-width="0.6"/>
<path d="M483.4,622.9 L484.9,625.5 L481.9,625.5 Z" fill="none" stroke="#333" stroke-width="0.6"/>
<polyline points="346.3,542.0 359.4,552.5 372.4,557.0 385.5,572.0 398.5,576.5 411.6,580.6 424.7,593.0 431.2,594.3 437.7,590.4 450.8,599.8 463.8,619.5 476.9,621.7 483.4,626.0" fill="none" stroke="#333" stroke-width="0.8"/>
<circle cx="346.3" cy="542.0" r="1.3" fill="none" stroke="#333" stroke-width="0.6"/>
<circle cx="359.4" cy="552.5" r="1.3" fill="none" stroke="#333" stroke-width="0.6"/>
<circle cx="372.4" cy="557.0" r="1.3" fill="none" stroke="#333" stroke-width="0.6"/>
<circle cx="385.5" cy="572.0" r="1.3" fill="none" stroke="#333" stroke-width="0.6"/>
<circle cx="398.5" cy="576.5" r="1.3" fill="none" stroke="#333" stroke-width="0.6"/>
<circle cx="411.6" cy="580.6" r="1.3" fill="none" stroke="#333" stroke-width="0.6"/>
<circle cx="424.7" cy="593.0" r="1.3" fill="none" stroke="#333" stroke-width="0.6"/>
<circle cx="431.2" cy="594.3" r="1.3" fill="none" stroke="#333" stroke-width="0.6"/>
<circle cx="437.7" cy="590.4" r="1.3" fill="none" stroke="#333" stroke-width="0.6"/>
<circle cx="450.8" cy="599.8" r="1.3" fill="none" stroke="#333" stroke-width="0.6"/>
<circle cx="463.8" cy="619.5" r="1.3" fill="none" stroke="#333" stroke-width="0.6"/>
<circle cx="476.9" cy="621.7" r="1.3" fill="none" stroke="#333" stroke-width="0.6"/>
<circle cx="483.4" cy="626.0" r="1.3" fill="none" stroke="#333" stroke-width="0.6"/>
<line x1="346.3" y1="505.7" x2="346.3" y2="634.5" stroke="#555" stroke-width="1" />
<line x1="346.3" y1="634.5" x2="493.4" y2="634.5" stroke="#555" stroke-width="1" />
<line x1="346.3" y1="634.5" x2="348.3" y2="634.5" stroke="#555" stroke-width="0.8" />
<text x="344.8" y="637.2" font-size="7.6" fill="#444" stroke="#444" stroke-width="0.15" text-anchor="end" >0</text>
<line x1="346.3" y1="602.3" x2="348.3" y2="602.3" stroke="#555" stroke-width="0.8" />
<text x="344.8" y="605.0" font-size="7.6" fill="#444" stroke="#444" stroke-width="0.15" text-anchor="end" >0.2</text>
<line x1="346.3" y1="570.1" x2="348.3" y2="570.1" stroke="#555" stroke-width="0.8" />
<text x="344.8" y="572.8" font-size="7.6" fill="#444" stroke="#444" stroke-width="0.15" text-anchor="end" >0.4</text>
<line x1="346.3" y1="537.9" x2="348.3" y2="537.9" stroke="#555" stroke-width="0.8" />
<text x="344.8" y="540.6" font-size="7.6" fill="#444" stroke="#444" stroke-width="0.15" text-anchor="end" >0.6</text>
<line x1="346.3" y1="505.7" x2="348.3" y2="505.7" stroke="#555" stroke-width="0.8" />
<text x="344.8" y="508.4" font-size="7.6" fill="#444" stroke="#444" stroke-width="0.15" text-anchor="end" >0.8</text>
<line x1="346.3" y1="634.5" x2="346.3" y2="632.5" stroke="#555" stroke-width="0.8" />
<text x="346.3" y="642.3" font-size="7.6" fill="#444" stroke="#444" stroke-width="0.15" text-anchor="middle" >1</text>
<line x1="378.9" y1="634.5" x2="378.9" y2="632.5" stroke="#555" stroke-width="0.8" />
<text x="378.9" y="642.3" font-size="7.6" fill="#444" stroke="#444" stroke-width="0.15" text-anchor="middle" >1.5</text>
<line x1="411.6" y1="634.5" x2="411.6" y2="632.5" stroke="#555" stroke-width="0.8" />
<text x="411.6" y="642.3" font-size="7.6" fill="#444" stroke="#444" stroke-width="0.15" text-anchor="middle" >2</text>
<line x1="444.2" y1="634.5" x2="444.2" y2="632.5" stroke="#555" stroke-width="0.8" />
<text x="444.2" y="642.3" font-size="7.6" fill="#444" stroke="#444" stroke-width="0.15" text-anchor="middle" >2.5</text>
<line x1="476.9" y1="634.5" x2="476.9" y2="632.5" stroke="#555" stroke-width="0.8" />
<text x="476.9" y="642.3" font-size="7.6" fill="#444" stroke="#444" stroke-width="0.15" text-anchor="middle" >3</text>
<text x="395.5" y="656.2" font-size="9.8" fill="#231f20" stroke="#231f20" stroke-width="0.15" text-anchor="start" textLength="49.0" lengthAdjust="spacingAndGlyphs" >Z Threshold</text>
<text x="0" y="0" font-size="9.3" fill="#231f20" stroke="#231f20" stroke-width="0.15" text-anchor="middle" textLength="17.0" lengthAdjust="spacingAndGlyphs" transform="translate(329.5,570.0) rotate(-90)">DOC</text>
<text x="489.0" y="345.9" font-size="12.3" fill="#231f20" stroke="#231f20" stroke-width="0.15" text-anchor="start" textLength="38.3" lengthAdjust="spacingAndGlyphs" >Healthy</text>
<text x="477.5" y="504.2" font-size="12.3" fill="#231f20" stroke="#231f20" stroke-width="0.15" text-anchor="start" textLength="63.7" lengthAdjust="spacingAndGlyphs" >Neuropathic</text>
<rect x="544.9" y="385.6" width="35.1" height="85.3" fill="url(#gFS)" />
<rect x="588.8" y="429.5" width="35.0" height="41.4" fill="url(#gFA)" />
<rect x="632.3" y="421.0" width="34.7" height="49.9" fill="url(#gAS)" />
<line x1="528.4" y1="355.4" x2="528.4" y2="470.9" stroke="#555" stroke-width="1" />
<line x1="528.4" y1="470.9" x2="677.9" y2="470.9" stroke="#555" stroke-width="1" />
<line x1="528.4" y1="470.9" x2="530.4" y2="470.9" stroke="#555" stroke-width="0.8" />
<text x="525.9" y="473.8" font-size="8" fill="#555" stroke="#555" stroke-width="0.15" text-anchor="end" >0</text>
<line x1="528.4" y1="432.4" x2="530.4" y2="432.4" stroke="#555" stroke-width="0.8" />
<text x="525.9" y="435.3" font-size="8" fill="#555" stroke="#555" stroke-width="0.15" text-anchor="end" >0.2</text>
<line x1="528.4" y1="393.9" x2="530.4" y2="393.9" stroke="#555" stroke-width="0.8" />
<text x="525.9" y="396.8" font-size="8" fill="#555" stroke="#555" stroke-width="0.15" text-anchor="end" >0.4</text>
<line x1="528.4" y1="355.4" x2="530.4" y2="355.4" stroke="#555" stroke-width="0.8" />
<text x="525.9" y="358.3" font-size="8" fill="#555" stroke="#555" stroke-width="0.15" text-anchor="end" >0.6</text>
<line x1="562.6" y1="372.7" x2="562.6" y2="398.3" stroke="#444" stroke-width="0.8" />
<line x1="560.1" y1="372.7" x2="565.1" y2="372.7" stroke="#444" stroke-width="0.8" />
<line x1="560.1" y1="398.3" x2="565.1" y2="398.3" stroke="#444" stroke-width="0.8" />
<line x1="606.1" y1="414.3" x2="606.1" y2="444.4" stroke="#444" stroke-width="0.8" />
<line x1="603.6" y1="414.3" x2="608.6" y2="414.3" stroke="#444" stroke-width="0.8" />
<line x1="603.6" y1="444.4" x2="608.6" y2="444.4" stroke="#444" stroke-width="0.8" />
<line x1="650.0" y1="408.3" x2="650.0" y2="433.0" stroke="#444" stroke-width="0.8" />
<line x1="647.5" y1="408.3" x2="652.5" y2="408.3" stroke="#444" stroke-width="0.8" />
<line x1="647.5" y1="433.0" x2="652.5" y2="433.0" stroke="#444" stroke-width="0.8" />
<circle cx="561.7" cy="332.3" r="1.25" fill="#111"/>
<circle cx="557.5" cy="344.8" r="1.25" fill="#111"/>
<circle cx="569.7" cy="341.4" r="1.25" fill="#111"/>
<circle cx="567.4" cy="379.2" r="1.25" fill="#111"/>
<circle cx="556.3" cy="419.4" r="1.25" fill="#111"/>
<circle cx="559.7" cy="421.1" r="1.25" fill="#111"/>
<circle cx="565.7" cy="414.0" r="1.25" fill="#111"/>
<circle cx="568.6" cy="437.3" r="1.25" fill="#111"/>
<circle cx="562.0" cy="470.6" r="1.25" fill="#111"/>
<circle cx="564.0" cy="470.6" r="1.25" fill="#111"/>
<circle cx="608.1" cy="346.2" r="1.25" fill="#111"/>
<circle cx="609.0" cy="399.5" r="1.25" fill="#111"/>
<circle cx="600.4" cy="423.1" r="1.25" fill="#111"/>
<circle cx="610.7" cy="438.5" r="1.25" fill="#111"/>
<circle cx="603.3" cy="446.7" r="1.25" fill="#111"/>
<circle cx="599.6" cy="451.0" r="1.25" fill="#111"/>
<circle cx="611.8" cy="469.2" r="1.25" fill="#111"/>
<circle cx="602.4" cy="470.6" r="1.25" fill="#111"/>
<circle cx="606.7" cy="470.6" r="1.25" fill="#111"/>
<circle cx="654.5" cy="372.7" r="1.25" fill="#111"/>
<circle cx="652.3" cy="418.2" r="1.25" fill="#111"/>
<circle cx="647.1" cy="429.1" r="1.25" fill="#111"/>
<circle cx="653.1" cy="430.8" r="1.25" fill="#111"/>
<circle cx="645.1" cy="433.6" r="1.25" fill="#111"/>
<circle cx="644.0" cy="453.3" r="1.25" fill="#111"/>
<circle cx="656.0" cy="467.5" r="1.25" fill="#111"/>
<circle cx="647.1" cy="470.6" r="1.25" fill="#111"/>
<circle cx="650.8" cy="470.6" r="1.25" fill="#111"/>
<text x="541.2" y="484.6" font-size="9.6" fill="#231f20" stroke="#231f20" stroke-width="0.15" text-anchor="start" textLength="40.5" lengthAdjust="spacingAndGlyphs" >Foot-Som</text>
<line x1="554.5" y1="494.4" x2="568.5" y2="494.4" stroke="#333" stroke-width="0.8" />
<circle cx="561.5" cy="494.4" r="2.8" fill="none" stroke="#333" stroke-width="0.8"/>
<text x="587.6" y="484.6" font-size="9.6" fill="#231f20" stroke="#231f20" stroke-width="0.15" text-anchor="start" textLength="37.0" lengthAdjust="spacingAndGlyphs" >Foot-Ank</text>
<line x1="599.1" y1="494.4" x2="613.1" y2="494.4" stroke="#333" stroke-width="0.8" />
<path d="M606.1,491.29999999999995 L609.3,496.79999999999995 L602.9,496.79999999999995 Z" fill="none" stroke="#333" stroke-width="0.8"/>
<text x="632.3" y="484.6" font-size="9.6" fill="#231f20" stroke="#231f20" stroke-width="0.15" text-anchor="start" textLength="37.0" lengthAdjust="spacingAndGlyphs" >Ank-Som</text>
<line x1="643.8" y1="494.4" x2="657.8" y2="494.4" stroke="#333" stroke-width="0.8" />
<rect x="648.0" y="491.59999999999997" width="5.6" height="5.6" fill="none" stroke="#333" stroke-width="0.8"/>
<text x="0" y="0" font-size="8.8" fill="#231f20" stroke="#231f20" stroke-width="0.15" text-anchor="middle" textLength="88.0" lengthAdjust="spacingAndGlyphs" transform="translate(508.2,413.8) rotate(-90)">DOC - Z threshold=2.2</text>
<polyline points="562.6,364.3 562.6,361.9 606.1,361.9 606.1,364.3" fill="none" stroke="#555" stroke-width="0.8"/>
<text x="586.2" y="364.0" font-size="13" fill="#555" stroke="#555" stroke-width="0.15" text-anchor="middle" >*</text>
<rect x="546.9" y="583.9" width="34.8" height="49.3" fill="url(#gFS)" />
<rect x="590.2" y="600.5" width="35.0" height="32.7" fill="url(#gFA)" />
<rect x="633.8" y="571.0" width="35.0" height="62.2" fill="url(#gAS)" />
<line x1="529.9" y1="517.7" x2="529.9" y2="633.2" stroke="#555" stroke-width="1" />
<line x1="529.9" y1="633.2" x2="678.0" y2="633.2" stroke="#555" stroke-width="1" />
<line x1="529.9" y1="633.2" x2="531.9" y2="633.2" stroke="#555" stroke-width="0.8" />
<text x="527.4" y="636.1" font-size="8" fill="#555" stroke="#555" stroke-width="0.15" text-anchor="end" >0</text>
<line x1="529.9" y1="594.7" x2="531.9" y2="594.7" stroke="#555" stroke-width="0.8" />
<text x="527.4" y="597.6" font-size="8" fill="#555" stroke="#555" stroke-width="0.15" text-anchor="end" >0.2</text>
<line x1="529.9" y1="556.2" x2="531.9" y2="556.2" stroke="#555" stroke-width="0.8" />
<text x="527.4" y="559.1" font-size="8" fill="#555" stroke="#555" stroke-width="0.15" text-anchor="end" >0.4</text>
<line x1="529.9" y1="517.7" x2="531.9" y2="517.7" stroke="#555" stroke-width="0.8" />
<text x="527.4" y="520.6" font-size="8" fill="#555" stroke="#555" stroke-width="0.15" text-anchor="end" >0.6</text>
<line x1="564.6" y1="571.7" x2="564.6" y2="595.3" stroke="#444" stroke-width="0.8" />
<line x1="562.1" y1="571.7" x2="567.1" y2="571.7" stroke="#444" stroke-width="0.8" />
<line x1="562.1" y1="595.3" x2="567.1" y2="595.3" stroke="#444" stroke-width="0.8" />
<line x1="607.6" y1="583.9" x2="607.6" y2="615.2" stroke="#444" stroke-width="0.8" />
<line x1="605.1" y1="583.9" x2="610.1" y2="583.9" stroke="#444" stroke-width="0.8" />
<line x1="605.1" y1="615.2" x2="610.1" y2="615.2" stroke="#444" stroke-width="0.8" />
<line x1="651.7" y1="543.5" x2="651.7" y2="598.2" stroke="#444" stroke-width="0.8" />
<line x1="649.2" y1="543.5" x2="654.2" y2="543.5" stroke="#444" stroke-width="0.8" />
<line x1="649.2" y1="598.2" x2="654.2" y2="598.2" stroke="#444" stroke-width="0.8" />
<circle cx="558.9" cy="584.5" r="1.25" fill="#111"/>
<circle cx="564.6" cy="581.7" r="1.25" fill="#111"/>
<circle cx="567.4" cy="588.2" r="1.25" fill="#111"/>
<circle cx="562.0" cy="594.5" r="1.25" fill="#111"/>
<circle cx="570.0" cy="621.5" r="1.25" fill="#111"/>
<circle cx="607.8" cy="551.2" r="1.25" fill="#111"/>
<circle cx="611.0" cy="576.3" r="1.25" fill="#111"/>
<circle cx="613.5" cy="624.1" r="1.25" fill="#111"/>
<circle cx="601.9" cy="632.6" r="1.25" fill="#111"/>
<circle cx="605.3" cy="632.6" r="1.25" fill="#111"/>
<circle cx="655.1" cy="503.4" r="1.25" fill="#111"/>
<circle cx="651.7" cy="590.8" r="1.25" fill="#111"/>
<circle cx="648.8" cy="613.8" r="1.25" fill="#111"/>
<circle cx="657.9" cy="621.0" r="1.25" fill="#111"/>
<circle cx="645.4" cy="632.6" r="1.25" fill="#111"/>
<text x="543.5" y="646.0" font-size="9.6" fill="#231f20" stroke="#231f20" stroke-width="0.15" text-anchor="start" textLength="40.4" lengthAdjust="spacingAndGlyphs" >Foot-Som</text>
<line x1="556.7" y1="654.2" x2="570.7" y2="654.2" stroke="#333" stroke-width="0.8" />
<circle cx="563.7" cy="654.2" r="2.8" fill="none" stroke="#333" stroke-width="0.8"/>
<text x="590.0" y="646.0" font-size="9.6" fill="#231f20" stroke="#231f20" stroke-width="0.15" text-anchor="start" textLength="37.0" lengthAdjust="spacingAndGlyphs" >Foot-Ank</text>
<line x1="601.5" y1="654.2" x2="615.5" y2="654.2" stroke="#333" stroke-width="0.8" />
<path d="M608.5,651.1 L611.7,656.6 L605.3,656.6 Z" fill="none" stroke="#333" stroke-width="0.8"/>
<text x="633.8" y="646.0" font-size="9.6" fill="#231f20" stroke="#231f20" stroke-width="0.15" text-anchor="start" textLength="37.2" lengthAdjust="spacingAndGlyphs" >Ank-Som</text>
<line x1="645.4" y1="654.2" x2="659.4" y2="654.2" stroke="#333" stroke-width="0.8" />
<rect x="649.6" y="651.4000000000001" width="5.6" height="5.6" fill="none" stroke="#333" stroke-width="0.8"/>
<text x="0" y="0" font-size="8.8" fill="#231f20" stroke="#231f20" stroke-width="0.15" text-anchor="middle" textLength="87.0" lengthAdjust="spacingAndGlyphs" transform="translate(508.2,576.0) rotate(-90)">DOC - Z threshold=2.2</text>
<circle cx="10.2" cy="459.7" r="9.65" fill="#e6e6e8" stroke="#2a2a2a" stroke-width="1.1"/>
<text x="6.0" y="464.5" font-size="13.4" fill="#231f20" stroke="#231f20" stroke-width="0.15" text-anchor="start" textLength="8.1" lengthAdjust="spacingAndGlyphs" >D</text>
<text x="28.4" y="462.3" font-size="13.3" fill="#231f20" stroke="#231f20" stroke-width="0.15" text-anchor="start" textLength="257.6" lengthAdjust="spacingAndGlyphs" >Classification of different stimulation locations</text>
<text x="24.2" y="474.7" font-size="8.2" fill="#333" stroke="#333" stroke-width="0.15" text-anchor="start" >Train</text>
<rect x="21.5" y="480.0" width="65.2" height="15.57" fill="#9a9a9a" stroke="#231f20" stroke-width="1.3"/>
<text x="54.1" y="491.0" font-size="9" fill="#e8e8e8" stroke="#e8e8e8" stroke-width="0.15" text-anchor="middle" textLength="22.0" lengthAdjust="spacingAndGlyphs" >Run 1</text>
<rect x="21.5" y="495.6" width="65.2" height="15.57" fill="#9a9a9a" stroke="#231f20" stroke-width="1.3"/>
<text x="54.1" y="506.6" font-size="9" fill="#e8e8e8" stroke="#e8e8e8" stroke-width="0.15" text-anchor="middle" textLength="22.0" lengthAdjust="spacingAndGlyphs" >Run 2</text>
<rect x="21.5" y="511.1" width="65.2" height="15.57" fill="#9a9a9a" stroke="#231f20" stroke-width="1.3"/>
<text x="54.1" y="522.1" font-size="9" fill="#e8e8e8" stroke="#e8e8e8" stroke-width="0.15" text-anchor="middle" textLength="22.0" lengthAdjust="spacingAndGlyphs" >Run 3</text>
<path d="M89.5,480.5 C93,481 93.5,486 93.2,492 C93,498 93.5,502 95,503.4 C93.5,504.8 93,509 93.2,515 C93.5,521 93,526 89.5,526.5" fill="none" stroke="#333" stroke-width="0.8"/>
<text x="109.0" y="491.8" font-size="8.2" fill="#333" stroke="#333" stroke-width="0.15" text-anchor="start" >Test</text>
<rect x="109" y="497.3" width="64.4" height="15.2" fill="#9a9a9a" stroke="#231f20" stroke-width="1.3"/>
<text x="141.2" y="508.4" font-size="9" fill="#e8e8e8" stroke="#e8e8e8" stroke-width="0.15" text-anchor="middle" textLength="22.0" lengthAdjust="spacingAndGlyphs" >Run 4</text>
<text x="200.9" y="485.8" font-size="8.8" fill="#333" stroke="#333" stroke-width="0.15" text-anchor="start" textLength="89.1" lengthAdjust="spacingAndGlyphs" >LORO cross validation.</text>
<text x="245.7" y="499.7" font-size="8.8" fill="#333" stroke="#333" stroke-width="0.15" text-anchor="middle" >Labels:</text>
<text x="203.3" y="513.7" font-size="8.8" fill="#333" stroke="#333" stroke-width="0.15" text-anchor="start" textLength="84.7" lengthAdjust="spacingAndGlyphs" >Peroneal, Tibial, Sural</text>
<rect x="40.9" y="569.0" width="29.6" height="76.6" fill="#21a2dc" />
<rect x="77.8" y="573.4" width="29.9" height="72.2" fill="#f7941d" />
<rect x="114.9" y="581.1" width="29.9" height="64.5" fill="#8dc63f" />
<line x1="25.2" y1="546.3" x2="25.2" y2="645.6" stroke="#666" stroke-width="1" />
<line x1="25.2" y1="645.6" x2="156.5" y2="645.6" stroke="#999" stroke-width="1.2" />
<line x1="23.7" y1="645.6" x2="25.2" y2="645.6" stroke="#666" stroke-width="0.8" />
<text x="22.0" y="648.5" font-size="8.2" fill="#444" stroke="#444" stroke-width="0.15" text-anchor="end" >0</text>
<line x1="23.7" y1="612.5" x2="25.2" y2="612.5" stroke="#666" stroke-width="0.8" />
<text x="22.0" y="615.4" font-size="8.2" fill="#444" stroke="#444" stroke-width="0.15" text-anchor="end" >0.2</text>
<line x1="23.7" y1="579.4" x2="25.2" y2="579.4" stroke="#666" stroke-width="0.8" />
<text x="22.0" y="582.3" font-size="8.2" fill="#444" stroke="#444" stroke-width="0.15" text-anchor="end" >0.4</text>
<line x1="23.7" y1="546.3" x2="25.2" y2="546.3" stroke="#666" stroke-width="0.8" />
<text x="22.0" y="549.2" font-size="8.2" fill="#444" stroke="#444" stroke-width="0.15" text-anchor="end" >0.6</text>
<line x1="28.2" y1="591.3" x2="157.5" y2="591.3" stroke="#777" stroke-width="0.9" stroke-dasharray="3.4,2.6"/>
<line x1="55.6" y1="562.7" x2="55.6" y2="574.4" stroke="#333" stroke-width="0.9" />
<line x1="92.7" y1="567.4" x2="92.7" y2="580.2" stroke="#333" stroke-width="0.9" />
<line x1="129.6" y1="576.7" x2="129.6" y2="584.9" stroke="#333" stroke-width="0.9" />
<circle cx="53.3" cy="545.9" r="1.25" fill="#111"/>
<circle cx="56.1" cy="553.4" r="1.25" fill="#111"/>
<circle cx="58.4" cy="563.9" r="1.25" fill="#111"/>
<circle cx="51.9" cy="567.4" r="1.25" fill="#111"/>
<circle cx="54.4" cy="569.7" r="1.25" fill="#111"/>
<circle cx="59.8" cy="572.7" r="1.25" fill="#111"/>
<circle cx="56.8" cy="577.9" r="1.25" fill="#111"/>
<circle cx="50.9" cy="580.9" r="1.25" fill="#111"/>
<circle cx="57.5" cy="579.0" r="1.25" fill="#111"/>
<circle cx="53.0" cy="586.8" r="1.25" fill="#111"/>
<circle cx="93.0" cy="551.5" r="1.25" fill="#111"/>
<circle cx="93.0" cy="559.9" r="1.25" fill="#111"/>
<circle cx="94.8" cy="568.1" r="1.25" fill="#111"/>
<circle cx="92.3" cy="573.2" r="1.25" fill="#111"/>
<circle cx="91.1" cy="576.7" r="1.25" fill="#111"/>
<circle cx="94.1" cy="581.4" r="1.25" fill="#111"/>
<circle cx="89.2" cy="584.2" r="1.25" fill="#111"/>
<circle cx="93.0" cy="587.0" r="1.25" fill="#111"/>
<circle cx="88.3" cy="588.4" r="1.25" fill="#111"/>
<circle cx="125.7" cy="559.2" r="1.25" fill="#111"/>
<circle cx="127.3" cy="576.7" r="1.25" fill="#111"/>
<circle cx="133.1" cy="576.7" r="1.25" fill="#111"/>
<circle cx="130.1" cy="579.0" r="1.25" fill="#111"/>
<circle cx="126.1" cy="585.6" r="1.25" fill="#111"/>
<circle cx="129.6" cy="586.8" r="1.25" fill="#111"/>
<circle cx="133.1" cy="586.8" r="1.25" fill="#111"/>
<circle cx="130.3" cy="592.6" r="1.25" fill="#111"/>
<text x="39.2" y="655.0" font-size="10" fill="#231f20" stroke="#231f20" stroke-width="0.15" text-anchor="start" textLength="31.6" lengthAdjust="spacingAndGlyphs" >Somato</text>
<text x="77.8" y="655.0" font-size="10" fill="#231f20" stroke="#231f20" stroke-width="0.15" text-anchor="start" textLength="29.7" lengthAdjust="spacingAndGlyphs" >In-Foot</text>
<text x="110.3" y="655.0" font-size="10" fill="#231f20" stroke="#231f20" stroke-width="0.15" text-anchor="start" textLength="38.7" lengthAdjust="spacingAndGlyphs" >On-Ankle</text>
<text x="74.7" y="541.8" font-size="12.3" fill="#231f20" stroke="#231f20" stroke-width="0.15" text-anchor="start" textLength="37.9" lengthAdjust="spacingAndGlyphs" >Healthy</text>
<polyline points="56.5,555.5 56.5,553.4 129.6,553.4 129.6,555.5" fill="none" stroke="#555" stroke-width="0.8"/>
<text x="93.0" y="555.5" font-size="13" fill="#555" stroke="#555" stroke-width="0.15" text-anchor="middle" >*</text>
<rect x="189.0" y="572.4" width="30.5" height="73.5" fill="#21a2dc" />
<rect x="227.4" y="581.0" width="30.6" height="64.9" fill="#f7941d" />
<rect x="266.2" y="579.4" width="30.2" height="66.5" fill="#8dc63f" />
<line x1="175.6" y1="546.1" x2="175.6" y2="645.9" stroke="#666" stroke-width="1" />
<line x1="175.6" y1="645.9" x2="305.9" y2="645.9" stroke="#999" stroke-width="1.2" />
<line x1="174.1" y1="645.9" x2="175.6" y2="645.9" stroke="#666" stroke-width="0.8" />
<text x="172.4" y="648.8" font-size="8.2" fill="#444" stroke="#444" stroke-width="0.15" text-anchor="end" >0</text>
<line x1="174.1" y1="612.6" x2="175.6" y2="612.6" stroke="#666" stroke-width="0.8" />
<text x="172.4" y="615.5" font-size="8.2" fill="#444" stroke="#444" stroke-width="0.15" text-anchor="end" >0.2</text>
<line x1="174.1" y1="579.4" x2="175.6" y2="579.4" stroke="#666" stroke-width="0.8" />
<text x="172.4" y="582.3" font-size="8.2" fill="#444" stroke="#444" stroke-width="0.15" text-anchor="end" >0.4</text>
<line x1="174.1" y1="546.1" x2="175.6" y2="546.1" stroke="#666" stroke-width="0.8" />
<text x="172.4" y="549.0" font-size="8.2" fill="#444" stroke="#444" stroke-width="0.15" text-anchor="end" >0.6</text>
<line x1="178.6" y1="591.3" x2="306.9" y2="591.3" stroke="#777" stroke-width="0.9" stroke-dasharray="3.4,2.6"/>
<line x1="204.6" y1="559.3" x2="204.6" y2="585.1" stroke="#333" stroke-width="0.9" />
<line x1="242.6" y1="574.2" x2="242.6" y2="587.6" stroke="#333" stroke-width="0.9" />
<line x1="281.0" y1="566.5" x2="281.0" y2="589.6" stroke="#333" stroke-width="0.9" />
<circle cx="200.9" cy="579.1" r="1.25" fill="#111"/>
<circle cx="204.6" cy="576.7" r="1.25" fill="#111"/>
<circle cx="207.1" cy="581.4" r="1.25" fill="#111"/>
<circle cx="205.8" cy="582.6" r="1.25" fill="#111"/>
<circle cx="241.3" cy="574.2" r="1.25" fill="#111"/>
<circle cx="245.6" cy="578.6" r="1.25" fill="#111"/>
<circle cx="237.4" cy="595.8" r="1.25" fill="#111"/>
<circle cx="280.8" cy="547.4" r="1.25" fill="#111"/>
<circle cx="284.0" cy="578.4" r="1.25" fill="#111"/>
<circle cx="281.5" cy="582.1" r="1.25" fill="#111"/>
<circle cx="278.6" cy="589.1" r="1.25" fill="#111"/>
<circle cx="280.3" cy="599.5" r="1.25" fill="#111"/>
<circle cx="202.6" cy="539.2" r="1.25" fill="#111"/>
<text x="189.0" y="655.0" font-size="10" fill="#231f20" stroke="#231f20" stroke-width="0.15" text-anchor="start" textLength="31.2" lengthAdjust="spacingAndGlyphs" >Somato</text>
<text x="227.7" y="655.0" font-size="10" fill="#231f20" stroke="#231f20" stroke-width="0.15" text-anchor="start" textLength="29.5" lengthAdjust="spacingAndGlyphs" >In-Foot</text>
<text x="260.4" y="655.0" font-size="10" fill="#231f20" stroke="#231f20" stroke-width="0.15" text-anchor="start" textLength="39.8" lengthAdjust="spacingAndGlyphs" >On-Ankle</text>
<text x="211.6" y="541.8" font-size="12.3" fill="#231f20" stroke="#231f20" stroke-width="0.15" text-anchor="start" textLength="60.8" lengthAdjust="spacingAndGlyphs" >Neuropathic</text>
<text x="0" y="0" font-size="9.4" fill="#231f20" stroke="#231f20" stroke-width="0.15" text-anchor="middle" textLength="111.0" lengthAdjust="spacingAndGlyphs" transform="translate(8.1,591.3) rotate(-90)">SVM Classifier Accuracy (%)</text>
</svg></body></html>
